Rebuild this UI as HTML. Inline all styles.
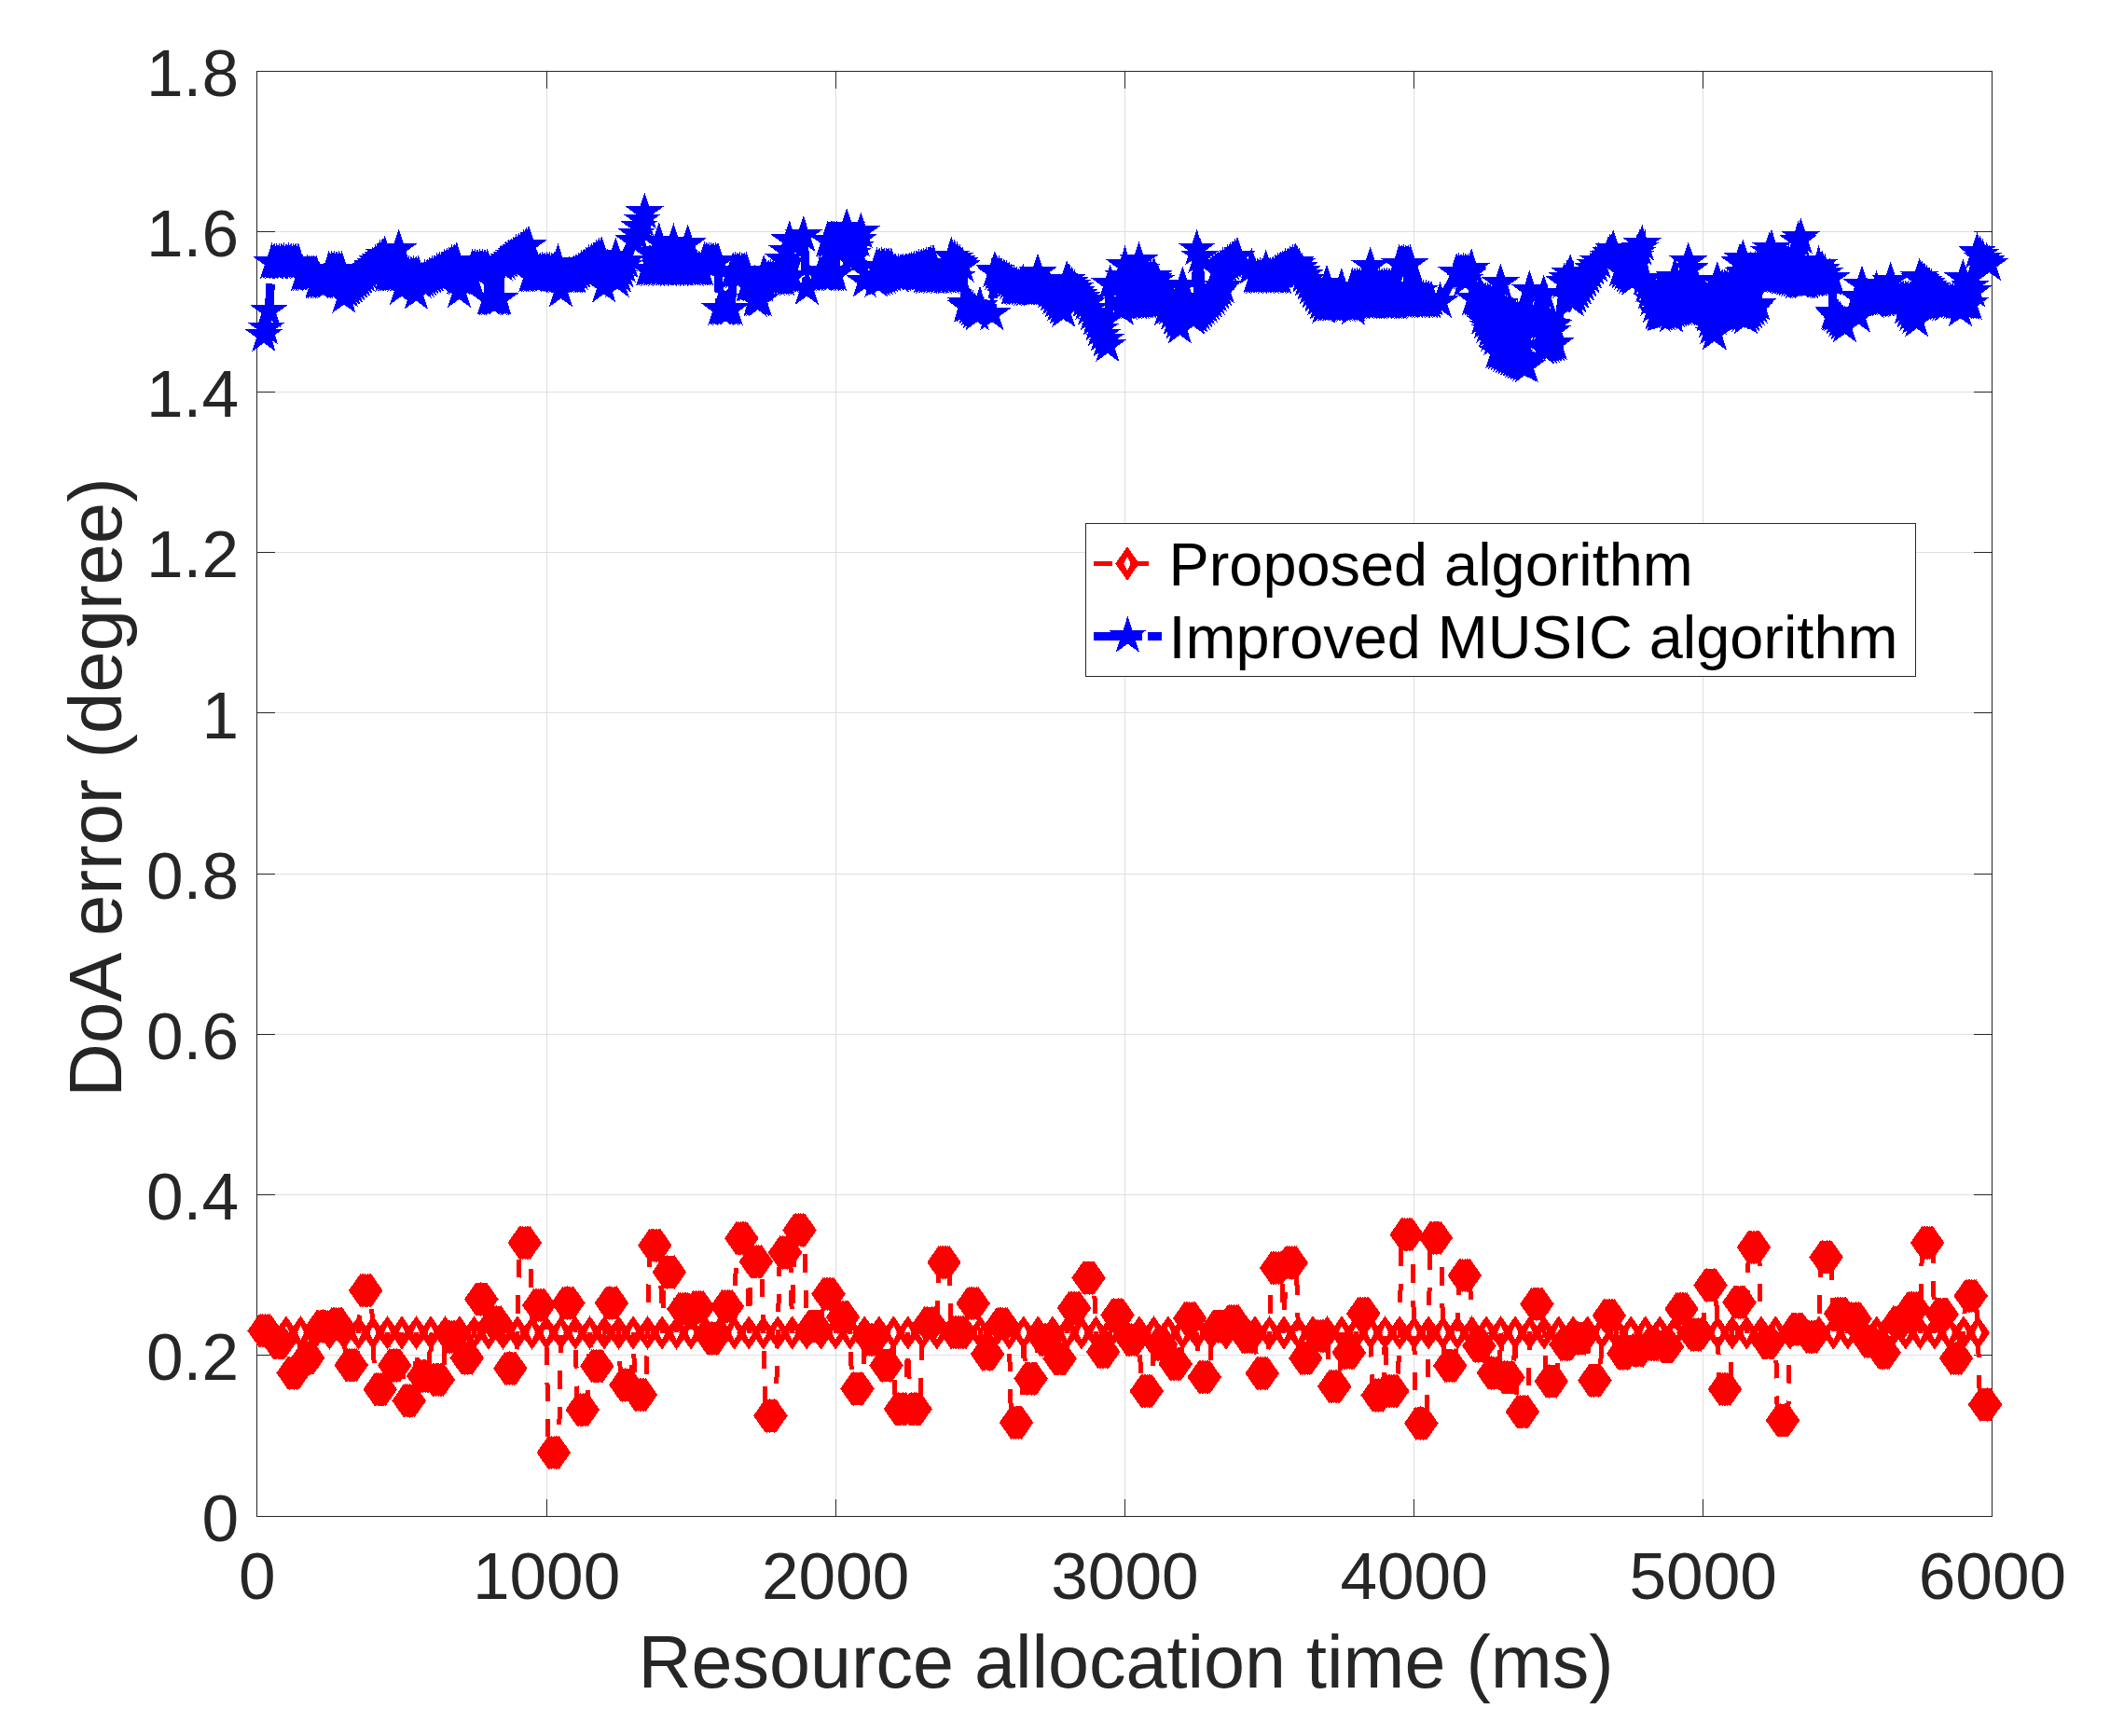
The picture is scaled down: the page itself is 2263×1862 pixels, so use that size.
<!DOCTYPE html>
<html><head><meta charset="utf-8"><title>DoA error</title>
<style>
html,body{margin:0;padding:0;background:#fff}
svg{display:block}
text{font-family:"Liberation Sans",sans-serif;fill:#262626}
.lg{fill:#000}
</style></head><body>
<svg width="2263" height="1862" viewBox="0 0 2263 1862">
<rect x="0" y="0" width="2263" height="1862" fill="#fff"/>
<g fill="#dfdfdf" shape-rendering="crispEdges">
<rect x="586" y="76" width="1" height="1551"/>
<rect x="896" y="76" width="1" height="1551"/>
<rect x="1206" y="76" width="1" height="1551"/>
<rect x="1516" y="76" width="1" height="1551"/>
<rect x="1826" y="76" width="1" height="1551"/>
<rect x="275" y="1453" width="1862" height="1"/>
<rect x="275" y="1281" width="1862" height="1"/>
<rect x="275" y="1109" width="1862" height="1"/>
<rect x="275" y="937" width="1862" height="1"/>
<rect x="275" y="764" width="1862" height="1"/>
<rect x="275" y="592" width="1862" height="1"/>
<rect x="275" y="420" width="1862" height="1"/>
<rect x="275" y="248" width="1862" height="1"/>
</g>
<g fill="#262626" shape-rendering="crispEdges">
<rect x="275" y="76" width="1862" height="1"/><rect x="275" y="1626" width="1862" height="1"/><rect x="275" y="76" width="1" height="1551"/><rect x="2136" y="76" width="1" height="1551"/>
<rect x="586" y="76" width="1" height="19"/><rect x="586" y="1608" width="1" height="19"/>
<rect x="896" y="76" width="1" height="19"/><rect x="896" y="1608" width="1" height="19"/>
<rect x="1206" y="76" width="1" height="19"/><rect x="1206" y="1608" width="1" height="19"/>
<rect x="1516" y="76" width="1" height="19"/><rect x="1516" y="1608" width="1" height="19"/>
<rect x="1826" y="76" width="1" height="19"/><rect x="1826" y="1608" width="1" height="19"/>
<rect x="275" y="1453" width="20" height="1"/><rect x="2117" y="1453" width="20" height="1"/>
<rect x="275" y="1281" width="20" height="1"/><rect x="2117" y="1281" width="20" height="1"/>
<rect x="275" y="1109" width="20" height="1"/><rect x="2117" y="1109" width="20" height="1"/>
<rect x="275" y="937" width="20" height="1"/><rect x="2117" y="937" width="20" height="1"/>
<rect x="275" y="764" width="20" height="1"/><rect x="2117" y="764" width="20" height="1"/>
<rect x="275" y="592" width="20" height="1"/><rect x="2117" y="592" width="20" height="1"/>
<rect x="275" y="420" width="20" height="1"/><rect x="2117" y="420" width="20" height="1"/>
<rect x="275" y="248" width="20" height="1"/><rect x="2117" y="248" width="20" height="1"/>
</g>
<defs><path id="star" d="M0.00 -21.60 L4.85 -6.67 L20.54 -6.67 L7.85 2.55 L12.70 17.47 L0.00 8.25 L-12.70 17.47 L-7.85 2.55 L-20.54 -6.67 L-4.85 -6.67Z" fill="#00f"/><path id="dia" d="M0 -18.2 L12.7 0 L0 18.2 L-12.7 0 Z M0 -7.5 L-3.9 0 L0 7.5 L3.9 0 Z" fill="#f00" fill-rule="evenodd"/></defs>
<g><polyline fill="none" stroke="#f00" stroke-width="5" stroke-dasharray="19.5 19" shape-rendering="crispEdges" points="278.1,1427.4 279.7,1427.4 281.3,1427.4 282.9,1427.4 284.5,1427.4 286.1,1427.4 287.7,1427.4 289.3,1427.4 291.4,1429.5 293.6,1440.3 295.2,1440.3 296.8,1440.3 298.4,1440.3 300.0,1440.3 301.6,1440.3 303.2,1440.3 304.8,1440.3 306.9,1429.5 309.1,1472.6 310.7,1472.6 312.3,1472.6 313.9,1472.6 315.5,1472.6 317.1,1472.6 318.7,1472.6 320.3,1472.6 322.4,1429.5 324.6,1456.5 326.2,1456.5 327.8,1456.5 329.4,1456.5 331.0,1456.5 332.6,1456.5 334.2,1456.5 335.8,1456.5 337.9,1429.5 340.1,1422.6 341.7,1422.6 343.3,1422.6 344.9,1422.6 346.5,1422.6 348.1,1422.6 349.7,1422.6 351.3,1422.6 353.4,1429.5 355.6,1420.2 357.2,1420.2 358.8,1420.2 360.4,1420.2 362.0,1420.2 363.6,1420.2 365.2,1420.2 366.8,1420.2 368.9,1429.5 371.1,1464.2 372.7,1464.2 374.3,1464.2 375.9,1464.2 377.5,1464.2 379.1,1464.2 380.7,1464.2 382.3,1464.2 384.5,1429.5 386.6,1384.2 388.2,1384.2 389.8,1384.2 391.4,1384.2 393.0,1384.2 394.6,1384.2 396.2,1384.2 397.8,1384.2 400.0,1429.5 402.1,1490.3 403.7,1490.3 405.3,1490.3 406.9,1490.3 408.5,1490.3 410.1,1490.3 411.7,1490.3 413.3,1490.3 415.5,1429.5 417.6,1464.5 419.2,1464.5 420.8,1464.5 422.4,1464.5 424.0,1464.5 425.6,1464.5 427.2,1464.5 428.8,1464.5 431.0,1429.5 433.1,1502.4 434.7,1502.4 436.3,1502.4 437.9,1502.4 439.5,1502.4 441.1,1502.4 442.7,1502.4 444.3,1502.4 446.5,1429.5 448.6,1475.8 450.2,1475.8 451.8,1475.8 453.4,1475.8 455.0,1475.8 456.6,1475.8 458.2,1475.8 459.8,1475.8 462.0,1429.5 464.2,1479.8 465.8,1479.8 467.4,1479.8 469.0,1479.8 470.6,1479.8 472.2,1479.8 473.8,1479.8 475.4,1479.8 477.5,1429.5 479.7,1433.9 481.3,1433.9 482.9,1433.9 484.5,1433.9 486.1,1433.9 487.7,1433.9 489.3,1433.9 490.9,1433.9 493.0,1429.5 495.2,1456.5 496.8,1456.5 498.4,1456.5 500.0,1456.5 501.6,1456.5 503.2,1456.5 504.8,1456.5 506.4,1456.5 508.5,1429.5 510.7,1393.5 512.3,1393.5 513.9,1393.5 515.5,1393.5 517.1,1393.5 518.7,1393.5 520.3,1393.5 521.9,1393.5 524.0,1429.5 526.2,1418.5 527.8,1418.5 529.4,1418.5 531.0,1418.5 532.6,1418.5 534.2,1418.5 535.8,1418.5 537.4,1418.5 539.5,1429.5 541.7,1467.7 543.3,1467.7 544.9,1467.7 546.5,1467.7 548.1,1467.7 549.7,1467.7 551.3,1467.7 552.9,1467.7 555.0,1429.5 557.2,1333.0 558.8,1333.0 560.4,1333.0 562.0,1333.0 563.6,1333.0 565.2,1333.0 566.8,1333.0 568.4,1333.0 570.6,1429.5 572.7,1400.0 574.3,1400.0 575.9,1400.0 577.5,1400.0 579.1,1400.0 580.7,1400.0 582.3,1400.0 583.9,1400.0 586.1,1429.5 588.2,1558.0 589.8,1558.0 591.4,1558.0 593.0,1558.0 594.6,1558.0 596.2,1558.0 597.8,1558.0 599.4,1558.0 601.6,1429.5 603.7,1397.6 605.3,1397.6 606.9,1397.6 608.5,1397.6 610.1,1397.6 611.7,1397.6 613.3,1397.6 614.9,1397.6 617.1,1429.5 619.2,1512.1 620.8,1512.1 622.4,1512.1 624.0,1512.1 625.6,1512.1 627.2,1512.1 628.8,1512.1 630.4,1512.1 632.6,1429.5 634.7,1465.3 636.3,1465.3 637.9,1465.3 639.5,1465.3 641.1,1465.3 642.7,1465.3 644.3,1465.3 645.9,1465.3 648.1,1429.5 650.3,1397.6 651.9,1397.6 653.5,1397.6 655.1,1397.6 656.7,1397.6 658.3,1397.6 659.9,1397.6 661.5,1397.6 663.6,1429.5 665.8,1485.5 667.4,1485.5 669.0,1485.5 670.6,1485.5 672.2,1485.5 673.8,1485.5 675.4,1485.5 677.0,1485.5 679.1,1429.5 681.3,1496.0 682.9,1496.0 684.5,1496.0 686.1,1496.0 687.7,1496.0 689.3,1496.0 690.9,1496.0 692.5,1496.0 694.6,1429.5 696.8,1335.8 698.4,1335.8 700.0,1335.8 701.6,1335.8 703.2,1335.8 704.8,1335.8 706.4,1335.8 708.0,1335.8 710.1,1429.5 712.3,1364.5 713.9,1364.5 715.5,1364.5 717.1,1364.5 718.7,1364.5 720.3,1364.5 721.9,1364.5 723.5,1364.5 725.6,1429.5 727.8,1404.0 729.4,1404.0 731.0,1404.0 732.6,1404.0 734.2,1404.0 735.8,1404.0 737.4,1404.0 739.0,1404.0 741.1,1429.5 743.3,1402.4 744.9,1402.4 746.5,1402.4 748.1,1402.4 749.7,1402.4 751.3,1402.4 752.9,1402.4 754.5,1402.4 756.7,1429.5 758.8,1435.5 760.4,1435.5 762.0,1435.5 763.6,1435.5 765.2,1435.5 766.8,1435.5 768.4,1435.5 770.0,1435.5 772.2,1429.5 774.3,1401.3 775.9,1401.3 777.5,1401.3 779.1,1401.3 780.7,1401.3 782.3,1401.3 783.9,1401.3 785.5,1401.3 787.7,1429.5 789.8,1328.2 791.4,1328.2 793.0,1328.2 794.6,1328.2 796.2,1328.2 797.8,1328.2 799.4,1328.2 801.0,1328.2 803.2,1429.5 805.3,1353.2 806.9,1353.2 808.5,1353.2 810.1,1353.2 811.7,1353.2 813.3,1353.2 814.9,1353.2 816.5,1353.2 818.7,1429.5 820.8,1518.5 822.4,1518.5 824.0,1518.5 825.6,1518.5 827.2,1518.5 828.8,1518.5 830.4,1518.5 832.0,1518.5 834.2,1429.5 836.4,1343.5 838.0,1343.5 839.6,1343.5 841.2,1343.5 842.8,1343.5 844.4,1343.5 846.0,1343.5 847.6,1343.5 849.7,1429.5 851.9,1319.4 853.5,1319.4 855.1,1319.4 856.7,1319.4 858.3,1319.4 859.9,1319.4 861.5,1319.4 863.1,1319.4 865.2,1429.5 867.4,1422.6 869.0,1422.6 870.6,1422.6 872.2,1422.6 873.8,1422.6 875.4,1422.6 877.0,1422.6 878.6,1422.6 880.7,1429.5 882.9,1387.9 884.5,1387.9 886.1,1387.9 887.7,1387.9 889.3,1387.9 890.9,1387.9 892.5,1387.9 894.1,1387.9 896.2,1429.5 898.4,1412.9 900.0,1412.9 901.6,1412.9 903.2,1412.9 904.8,1412.9 906.4,1412.9 908.0,1412.9 909.6,1412.9 911.7,1429.5 913.9,1489.5 915.5,1489.5 917.1,1489.5 918.7,1489.5 920.3,1489.5 921.9,1489.5 923.5,1489.5 925.1,1489.5 927.2,1429.5 929.4,1437.0 931.0,1437.0 932.6,1437.0 934.2,1437.0 935.8,1437.0 937.4,1437.0 939.0,1437.0 940.6,1437.0 942.8,1429.5 944.9,1464.5 946.5,1464.5 948.1,1464.5 949.7,1464.5 951.3,1464.5 952.9,1464.5 954.5,1464.5 956.1,1464.5 958.3,1429.5 960.4,1511.3 962.0,1511.3 963.6,1511.3 965.2,1511.3 966.8,1511.3 968.4,1511.3 970.0,1511.3 971.6,1511.3 973.8,1429.5 975.9,1511.3 977.5,1511.3 979.1,1511.3 980.7,1511.3 982.3,1511.3 983.9,1511.3 985.5,1511.3 987.1,1511.3 989.3,1429.5 991.4,1419.4 993.0,1419.4 994.6,1419.4 996.2,1419.4 997.8,1419.4 999.4,1419.4 1001.0,1419.4 1002.6,1419.4 1004.8,1429.5 1006.9,1354.0 1008.5,1354.0 1010.1,1354.0 1011.7,1354.0 1013.3,1354.0 1014.9,1354.0 1016.5,1354.0 1018.1,1354.0 1020.3,1429.5 1022.5,1429.0 1024.1,1429.0 1025.7,1429.0 1027.3,1429.0 1028.9,1429.0 1030.5,1429.0 1032.1,1429.0 1033.7,1429.0 1035.8,1429.5 1038.0,1398.0 1039.6,1398.0 1041.2,1398.0 1042.8,1398.0 1044.4,1398.0 1046.0,1398.0 1047.6,1398.0 1049.2,1398.0 1051.3,1429.5 1053.5,1452.4 1055.1,1452.4 1056.7,1452.4 1058.3,1452.4 1059.9,1452.4 1061.5,1452.4 1063.1,1452.4 1064.7,1452.4 1066.8,1429.5 1069.0,1420.2 1070.6,1420.2 1072.2,1420.2 1073.8,1420.2 1075.4,1420.2 1077.0,1420.2 1078.6,1420.2 1080.2,1420.2 1082.3,1429.5 1084.5,1525.8 1086.1,1525.8 1087.7,1525.8 1089.3,1525.8 1090.9,1525.8 1092.5,1525.8 1094.1,1525.8 1095.7,1525.8 1097.8,1429.5 1100.0,1478.7 1101.6,1478.7 1103.2,1478.7 1104.8,1478.7 1106.4,1478.7 1108.0,1478.7 1109.6,1478.7 1111.2,1478.7 1113.3,1429.5 1115.5,1437.0 1117.1,1437.0 1118.7,1437.0 1120.3,1437.0 1121.9,1437.0 1123.5,1437.0 1125.1,1437.0 1126.7,1437.0 1128.9,1429.5 1131.0,1457.3 1132.6,1457.3 1134.2,1457.3 1135.8,1457.3 1137.4,1457.3 1139.0,1457.3 1140.6,1457.3 1142.2,1457.3 1144.4,1429.5 1146.5,1402.9 1148.1,1402.9 1149.7,1402.9 1151.3,1402.9 1152.9,1402.9 1154.5,1402.9 1156.1,1402.9 1157.7,1402.9 1159.9,1429.5 1162.0,1370.6 1163.6,1370.6 1165.2,1370.6 1166.8,1370.6 1168.4,1370.6 1170.0,1370.6 1171.6,1370.6 1173.2,1370.6 1175.4,1429.5 1177.5,1450.0 1179.1,1450.0 1180.7,1450.0 1182.3,1450.0 1183.9,1450.0 1185.5,1450.0 1187.1,1450.0 1188.7,1450.0 1190.9,1429.5 1193.0,1410.5 1194.6,1410.5 1196.2,1410.5 1197.8,1410.5 1199.4,1410.5 1201.0,1410.5 1202.6,1410.5 1204.2,1410.5 1206.4,1429.5 1208.6,1437.0 1210.2,1437.0 1211.8,1437.0 1213.4,1437.0 1215.0,1437.0 1216.6,1437.0 1218.2,1437.0 1219.8,1437.0 1221.9,1429.5 1224.1,1492.0 1225.7,1492.0 1227.3,1492.0 1228.9,1492.0 1230.5,1492.0 1232.1,1492.0 1233.7,1492.0 1235.3,1492.0 1237.4,1429.5 1239.6,1442.0 1241.2,1442.0 1242.8,1442.0 1244.4,1442.0 1246.0,1442.0 1247.6,1442.0 1249.2,1442.0 1250.8,1442.0 1252.9,1429.5 1255.1,1463.0 1256.7,1463.0 1258.3,1463.0 1259.9,1463.0 1261.5,1463.0 1263.1,1463.0 1264.7,1463.0 1266.3,1463.0 1268.4,1429.5 1270.6,1414.0 1272.2,1414.0 1273.8,1414.0 1275.4,1414.0 1277.0,1414.0 1278.6,1414.0 1280.2,1414.0 1281.8,1414.0 1283.9,1429.5 1286.1,1477.0 1287.7,1477.0 1289.3,1477.0 1290.9,1477.0 1292.5,1477.0 1294.1,1477.0 1295.7,1477.0 1297.3,1477.0 1299.4,1429.5 1301.6,1422.6 1303.2,1422.6 1304.8,1422.6 1306.4,1422.6 1308.0,1422.6 1309.6,1422.6 1311.2,1422.6 1312.8,1422.6 1315.0,1429.5 1317.1,1417.4 1318.7,1417.4 1320.3,1417.4 1321.9,1417.4 1323.5,1417.4 1325.1,1417.4 1326.7,1417.4 1328.3,1417.4 1330.5,1429.5 1332.6,1433.9 1334.2,1433.9 1335.8,1433.9 1337.4,1433.9 1339.0,1433.9 1340.6,1433.9 1342.2,1433.9 1343.8,1433.9 1346.0,1429.5 1348.1,1473.0 1349.7,1473.0 1351.3,1473.0 1352.9,1473.0 1354.5,1473.0 1356.1,1473.0 1357.7,1473.0 1359.3,1473.0 1361.5,1429.5 1363.6,1360.0 1365.2,1360.0 1366.8,1360.0 1368.4,1360.0 1370.0,1360.0 1371.6,1360.0 1373.2,1360.0 1374.8,1360.0 1377.0,1429.5 1379.1,1354.4 1380.7,1354.4 1382.3,1354.4 1383.9,1354.4 1385.5,1354.4 1387.1,1354.4 1388.7,1354.4 1390.3,1354.4 1392.5,1429.5 1394.7,1456.8 1396.3,1456.8 1397.9,1456.8 1399.5,1456.8 1401.1,1456.8 1402.7,1456.8 1404.3,1456.8 1405.9,1456.8 1408.0,1429.5 1410.2,1433.0 1411.8,1433.0 1413.4,1433.0 1415.0,1433.0 1416.6,1433.0 1418.2,1433.0 1419.8,1433.0 1421.4,1433.0 1423.5,1429.5 1425.7,1487.1 1427.3,1487.1 1428.9,1487.1 1430.5,1487.1 1432.1,1487.1 1433.7,1487.1 1435.3,1487.1 1436.9,1487.1 1439.0,1429.5 1441.2,1450.8 1442.8,1450.8 1444.4,1450.8 1446.0,1450.8 1447.6,1450.8 1449.2,1450.8 1450.8,1450.8 1452.4,1450.8 1454.5,1429.5 1456.7,1408.9 1458.3,1408.9 1459.9,1408.9 1461.5,1408.9 1463.1,1408.9 1464.7,1408.9 1466.3,1408.9 1467.9,1408.9 1470.0,1429.5 1472.2,1496.5 1473.8,1496.5 1475.4,1496.5 1477.0,1496.5 1478.6,1496.5 1480.2,1496.5 1481.8,1496.5 1483.4,1496.5 1485.5,1429.5 1487.7,1492.0 1489.3,1492.0 1490.9,1492.0 1492.5,1492.0 1494.1,1492.0 1495.7,1492.0 1497.3,1492.0 1498.9,1492.0 1501.1,1429.5 1503.2,1324.2 1504.8,1324.2 1506.4,1324.2 1508.0,1324.2 1509.6,1324.2 1511.2,1324.2 1512.8,1324.2 1514.4,1324.2 1516.6,1429.5 1518.7,1526.6 1520.3,1526.6 1521.9,1526.6 1523.5,1526.6 1525.1,1526.6 1526.7,1526.6 1528.3,1526.6 1529.9,1526.6 1532.1,1429.5 1534.2,1327.7 1535.8,1327.7 1537.4,1327.7 1539.0,1327.7 1540.6,1327.7 1542.2,1327.7 1543.8,1327.7 1545.4,1327.7 1547.6,1429.5 1549.7,1464.8 1551.3,1464.8 1552.9,1464.8 1554.5,1464.8 1556.1,1464.8 1557.7,1464.8 1559.3,1464.8 1560.9,1464.8 1563.1,1429.5 1565.2,1368.0 1566.8,1368.0 1568.4,1368.0 1570.0,1368.0 1571.6,1368.0 1573.2,1368.0 1574.8,1368.0 1576.4,1368.0 1578.6,1429.5 1580.8,1443.5 1582.4,1443.5 1584.0,1443.5 1585.6,1443.5 1587.2,1443.5 1588.8,1443.5 1590.4,1443.5 1592.0,1443.5 1594.1,1429.5 1596.3,1472.6 1597.9,1472.6 1599.5,1472.6 1601.1,1472.6 1602.7,1472.6 1604.3,1472.6 1605.9,1472.6 1607.5,1472.6 1609.6,1429.5 1611.8,1477.4 1613.4,1477.4 1615.0,1477.4 1616.6,1477.4 1618.2,1477.4 1619.8,1477.4 1621.4,1477.4 1623.0,1477.4 1625.1,1429.5 1627.3,1514.2 1628.9,1514.2 1630.5,1514.2 1632.1,1514.2 1633.7,1514.2 1635.3,1514.2 1636.9,1514.2 1638.5,1514.2 1640.6,1429.5 1642.8,1398.7 1644.4,1398.7 1646.0,1398.7 1647.6,1398.7 1649.2,1398.7 1650.8,1398.7 1652.4,1398.7 1654.0,1398.7 1656.1,1429.5 1658.3,1481.5 1659.9,1481.5 1661.5,1481.5 1663.1,1481.5 1664.7,1481.5 1666.3,1481.5 1667.9,1481.5 1669.5,1481.5 1671.7,1429.5 1673.8,1442.0 1675.4,1442.0 1677.0,1442.0 1678.6,1442.0 1680.2,1442.0 1681.8,1442.0 1683.4,1442.0 1685.0,1442.0 1687.2,1429.5 1689.3,1435.5 1690.9,1435.5 1692.5,1435.5 1694.1,1435.5 1695.7,1435.5 1697.3,1435.5 1698.9,1435.5 1700.5,1435.5 1702.7,1429.5 1704.8,1480.6 1706.4,1480.6 1708.0,1480.6 1709.6,1480.6 1711.2,1480.6 1712.8,1480.6 1714.4,1480.6 1716.0,1480.6 1718.2,1429.5 1720.3,1411.0 1721.9,1411.0 1723.5,1411.0 1725.1,1411.0 1726.7,1411.0 1728.3,1411.0 1729.9,1411.0 1731.5,1411.0 1733.7,1429.5 1735.8,1451.6 1737.4,1451.6 1739.0,1451.6 1740.6,1451.6 1742.2,1451.6 1743.8,1451.6 1745.4,1451.6 1747.0,1451.6 1749.2,1429.5 1751.3,1448.4 1752.9,1448.4 1754.5,1448.4 1756.1,1448.4 1757.7,1448.4 1759.3,1448.4 1760.9,1448.4 1762.5,1448.4 1764.7,1429.5 1766.9,1442.0 1768.5,1442.0 1770.1,1442.0 1771.7,1442.0 1773.3,1442.0 1774.9,1442.0 1776.5,1442.0 1778.1,1442.0 1780.2,1429.5 1782.4,1444.4 1784.0,1444.4 1785.6,1444.4 1787.2,1444.4 1788.8,1444.4 1790.4,1444.4 1792.0,1444.4 1793.6,1444.4 1795.7,1429.5 1797.9,1404.0 1799.5,1404.0 1801.1,1404.0 1802.7,1404.0 1804.3,1404.0 1805.9,1404.0 1807.5,1404.0 1809.1,1404.0 1811.2,1429.5 1813.4,1431.5 1815.0,1431.5 1816.6,1431.5 1818.2,1431.5 1819.8,1431.5 1821.4,1431.5 1823.0,1431.5 1824.6,1431.5 1826.7,1429.5 1828.9,1378.5 1830.5,1378.5 1832.1,1378.5 1833.7,1378.5 1835.3,1378.5 1836.9,1378.5 1838.5,1378.5 1840.1,1378.5 1842.2,1429.5 1844.4,1490.0 1846.0,1490.0 1847.6,1490.0 1849.2,1490.0 1850.8,1490.0 1852.4,1490.0 1854.0,1490.0 1855.6,1490.0 1857.8,1429.5 1859.9,1396.8 1861.5,1396.8 1863.1,1396.8 1864.7,1396.8 1866.3,1396.8 1867.9,1396.8 1869.5,1396.8 1871.1,1396.8 1873.3,1429.5 1875.4,1337.9 1877.0,1337.9 1878.6,1337.9 1880.2,1337.9 1881.8,1337.9 1883.4,1337.9 1885.0,1337.9 1886.6,1337.9 1888.8,1429.5 1890.9,1440.3 1892.5,1440.3 1894.1,1440.3 1895.7,1440.3 1897.3,1440.3 1898.9,1440.3 1900.5,1440.3 1902.1,1440.3 1904.3,1429.5 1906.4,1523.4 1908.0,1523.4 1909.6,1523.4 1911.2,1523.4 1912.8,1523.4 1914.4,1523.4 1916.0,1523.4 1917.6,1523.4 1919.8,1429.5 1921.9,1425.8 1923.5,1425.8 1925.1,1425.8 1926.7,1425.8 1928.3,1425.8 1929.9,1425.8 1931.5,1425.8 1933.1,1425.8 1935.3,1429.5 1937.4,1433.9 1939.0,1433.9 1940.6,1433.9 1942.2,1433.9 1943.8,1433.9 1945.4,1433.9 1947.0,1433.9 1948.6,1433.9 1950.8,1429.5 1953.0,1348.4 1954.6,1348.4 1956.2,1348.4 1957.8,1348.4 1959.4,1348.4 1961.0,1348.4 1962.6,1348.4 1964.2,1348.4 1966.3,1429.5 1968.5,1408.9 1970.1,1408.9 1971.7,1408.9 1973.3,1408.9 1974.9,1408.9 1976.5,1408.9 1978.1,1408.9 1979.7,1408.9 1981.8,1429.5 1984.0,1414.5 1985.6,1414.5 1987.2,1414.5 1988.8,1414.5 1990.4,1414.5 1992.0,1414.5 1993.6,1414.5 1995.2,1414.5 1997.3,1429.5 1999.5,1438.7 2001.1,1438.7 2002.7,1438.7 2004.3,1438.7 2005.9,1438.7 2007.5,1438.7 2009.1,1438.7 2010.7,1438.7 2012.8,1429.5 2015.0,1450.8 2016.6,1450.8 2018.2,1450.8 2019.8,1450.8 2021.4,1450.8 2023.0,1450.8 2024.6,1450.8 2026.2,1450.8 2028.3,1429.5 2030.5,1418.5 2032.1,1418.5 2033.7,1418.5 2035.3,1418.5 2036.9,1418.5 2038.5,1418.5 2040.1,1418.5 2041.7,1418.5 2043.8,1429.5 2046.0,1403.2 2047.6,1403.2 2049.2,1403.2 2050.8,1403.2 2052.4,1403.2 2054.0,1403.2 2055.6,1403.2 2057.2,1403.2 2059.4,1429.5 2061.5,1333.0 2063.1,1333.0 2064.7,1333.0 2066.3,1333.0 2067.9,1333.0 2069.5,1333.0 2071.1,1333.0 2072.7,1333.0 2074.9,1429.5 2077.0,1409.7 2078.6,1409.7 2080.2,1409.7 2081.8,1409.7 2083.4,1409.7 2085.0,1409.7 2086.6,1409.7 2088.2,1409.7 2090.4,1429.5 2092.5,1456.8 2094.1,1456.8 2095.7,1456.8 2097.3,1456.8 2098.9,1456.8 2100.5,1456.8 2102.1,1456.8 2103.7,1456.8 2105.9,1429.5 2108.0,1390.0 2109.6,1390.0 2111.2,1390.0 2112.8,1390.0 2114.4,1390.0 2116.0,1390.0 2117.6,1390.0 2119.2,1390.0 2121.4,1429.5 2123.5,1506.5 2125.1,1506.5 2126.7,1506.5 2128.3,1506.5 2129.9,1506.5 2131.5,1506.5 2133.1,1506.5 2134.7,1506.5"/><g shape-rendering="crispEdges"><use href="#dia" x="278.1" y="1427.4"/><use href="#dia" x="279.7" y="1427.4"/><use href="#dia" x="281.3" y="1427.4"/><use href="#dia" x="282.9" y="1427.4"/><use href="#dia" x="284.5" y="1427.4"/><use href="#dia" x="286.1" y="1427.4"/><use href="#dia" x="287.7" y="1427.4"/><use href="#dia" x="289.3" y="1427.4"/><use href="#dia" x="291.4" y="1429.5"/><use href="#dia" x="293.6" y="1440.3"/><use href="#dia" x="295.2" y="1440.3"/><use href="#dia" x="296.8" y="1440.3"/><use href="#dia" x="298.4" y="1440.3"/><use href="#dia" x="300.0" y="1440.3"/><use href="#dia" x="301.6" y="1440.3"/><use href="#dia" x="303.2" y="1440.3"/><use href="#dia" x="304.8" y="1440.3"/><use href="#dia" x="306.9" y="1429.5"/><use href="#dia" x="309.1" y="1472.6"/><use href="#dia" x="310.7" y="1472.6"/><use href="#dia" x="312.3" y="1472.6"/><use href="#dia" x="313.9" y="1472.6"/><use href="#dia" x="315.5" y="1472.6"/><use href="#dia" x="317.1" y="1472.6"/><use href="#dia" x="318.7" y="1472.6"/><use href="#dia" x="320.3" y="1472.6"/><use href="#dia" x="322.4" y="1429.5"/><use href="#dia" x="324.6" y="1456.5"/><use href="#dia" x="326.2" y="1456.5"/><use href="#dia" x="327.8" y="1456.5"/><use href="#dia" x="329.4" y="1456.5"/><use href="#dia" x="331.0" y="1456.5"/><use href="#dia" x="332.6" y="1456.5"/><use href="#dia" x="334.2" y="1456.5"/><use href="#dia" x="335.8" y="1456.5"/><use href="#dia" x="337.9" y="1429.5"/><use href="#dia" x="340.1" y="1422.6"/><use href="#dia" x="341.7" y="1422.6"/><use href="#dia" x="343.3" y="1422.6"/><use href="#dia" x="344.9" y="1422.6"/><use href="#dia" x="346.5" y="1422.6"/><use href="#dia" x="348.1" y="1422.6"/><use href="#dia" x="349.7" y="1422.6"/><use href="#dia" x="351.3" y="1422.6"/><use href="#dia" x="353.4" y="1429.5"/><use href="#dia" x="355.6" y="1420.2"/><use href="#dia" x="357.2" y="1420.2"/><use href="#dia" x="358.8" y="1420.2"/><use href="#dia" x="360.4" y="1420.2"/><use href="#dia" x="362.0" y="1420.2"/><use href="#dia" x="363.6" y="1420.2"/><use href="#dia" x="365.2" y="1420.2"/><use href="#dia" x="366.8" y="1420.2"/><use href="#dia" x="368.9" y="1429.5"/><use href="#dia" x="371.1" y="1464.2"/><use href="#dia" x="372.7" y="1464.2"/><use href="#dia" x="374.3" y="1464.2"/><use href="#dia" x="375.9" y="1464.2"/><use href="#dia" x="377.5" y="1464.2"/><use href="#dia" x="379.1" y="1464.2"/><use href="#dia" x="380.7" y="1464.2"/><use href="#dia" x="382.3" y="1464.2"/><use href="#dia" x="384.5" y="1429.5"/><use href="#dia" x="386.6" y="1384.2"/><use href="#dia" x="388.2" y="1384.2"/><use href="#dia" x="389.8" y="1384.2"/><use href="#dia" x="391.4" y="1384.2"/><use href="#dia" x="393.0" y="1384.2"/><use href="#dia" x="394.6" y="1384.2"/><use href="#dia" x="396.2" y="1384.2"/><use href="#dia" x="397.8" y="1384.2"/><use href="#dia" x="400.0" y="1429.5"/><use href="#dia" x="402.1" y="1490.3"/><use href="#dia" x="403.7" y="1490.3"/><use href="#dia" x="405.3" y="1490.3"/><use href="#dia" x="406.9" y="1490.3"/><use href="#dia" x="408.5" y="1490.3"/><use href="#dia" x="410.1" y="1490.3"/><use href="#dia" x="411.7" y="1490.3"/><use href="#dia" x="413.3" y="1490.3"/><use href="#dia" x="415.5" y="1429.5"/><use href="#dia" x="417.6" y="1464.5"/><use href="#dia" x="419.2" y="1464.5"/><use href="#dia" x="420.8" y="1464.5"/><use href="#dia" x="422.4" y="1464.5"/><use href="#dia" x="424.0" y="1464.5"/><use href="#dia" x="425.6" y="1464.5"/><use href="#dia" x="427.2" y="1464.5"/><use href="#dia" x="428.8" y="1464.5"/><use href="#dia" x="431.0" y="1429.5"/><use href="#dia" x="433.1" y="1502.4"/><use href="#dia" x="434.7" y="1502.4"/><use href="#dia" x="436.3" y="1502.4"/><use href="#dia" x="437.9" y="1502.4"/><use href="#dia" x="439.5" y="1502.4"/><use href="#dia" x="441.1" y="1502.4"/><use href="#dia" x="442.7" y="1502.4"/><use href="#dia" x="444.3" y="1502.4"/><use href="#dia" x="446.5" y="1429.5"/><use href="#dia" x="448.6" y="1475.8"/><use href="#dia" x="450.2" y="1475.8"/><use href="#dia" x="451.8" y="1475.8"/><use href="#dia" x="453.4" y="1475.8"/><use href="#dia" x="455.0" y="1475.8"/><use href="#dia" x="456.6" y="1475.8"/><use href="#dia" x="458.2" y="1475.8"/><use href="#dia" x="459.8" y="1475.8"/><use href="#dia" x="462.0" y="1429.5"/><use href="#dia" x="464.2" y="1479.8"/><use href="#dia" x="465.8" y="1479.8"/><use href="#dia" x="467.4" y="1479.8"/><use href="#dia" x="469.0" y="1479.8"/><use href="#dia" x="470.6" y="1479.8"/><use href="#dia" x="472.2" y="1479.8"/><use href="#dia" x="473.8" y="1479.8"/><use href="#dia" x="475.4" y="1479.8"/><use href="#dia" x="477.5" y="1429.5"/><use href="#dia" x="479.7" y="1433.9"/><use href="#dia" x="481.3" y="1433.9"/><use href="#dia" x="482.9" y="1433.9"/><use href="#dia" x="484.5" y="1433.9"/><use href="#dia" x="486.1" y="1433.9"/><use href="#dia" x="487.7" y="1433.9"/><use href="#dia" x="489.3" y="1433.9"/><use href="#dia" x="490.9" y="1433.9"/><use href="#dia" x="493.0" y="1429.5"/><use href="#dia" x="495.2" y="1456.5"/><use href="#dia" x="496.8" y="1456.5"/><use href="#dia" x="498.4" y="1456.5"/><use href="#dia" x="500.0" y="1456.5"/><use href="#dia" x="501.6" y="1456.5"/><use href="#dia" x="503.2" y="1456.5"/><use href="#dia" x="504.8" y="1456.5"/><use href="#dia" x="506.4" y="1456.5"/><use href="#dia" x="508.5" y="1429.5"/><use href="#dia" x="510.7" y="1393.5"/><use href="#dia" x="512.3" y="1393.5"/><use href="#dia" x="513.9" y="1393.5"/><use href="#dia" x="515.5" y="1393.5"/><use href="#dia" x="517.1" y="1393.5"/><use href="#dia" x="518.7" y="1393.5"/><use href="#dia" x="520.3" y="1393.5"/><use href="#dia" x="521.9" y="1393.5"/><use href="#dia" x="524.0" y="1429.5"/><use href="#dia" x="526.2" y="1418.5"/><use href="#dia" x="527.8" y="1418.5"/><use href="#dia" x="529.4" y="1418.5"/><use href="#dia" x="531.0" y="1418.5"/><use href="#dia" x="532.6" y="1418.5"/><use href="#dia" x="534.2" y="1418.5"/><use href="#dia" x="535.8" y="1418.5"/><use href="#dia" x="537.4" y="1418.5"/><use href="#dia" x="539.5" y="1429.5"/><use href="#dia" x="541.7" y="1467.7"/><use href="#dia" x="543.3" y="1467.7"/><use href="#dia" x="544.9" y="1467.7"/><use href="#dia" x="546.5" y="1467.7"/><use href="#dia" x="548.1" y="1467.7"/><use href="#dia" x="549.7" y="1467.7"/><use href="#dia" x="551.3" y="1467.7"/><use href="#dia" x="552.9" y="1467.7"/><use href="#dia" x="555.0" y="1429.5"/><use href="#dia" x="557.2" y="1333.0"/><use href="#dia" x="558.8" y="1333.0"/><use href="#dia" x="560.4" y="1333.0"/><use href="#dia" x="562.0" y="1333.0"/><use href="#dia" x="563.6" y="1333.0"/><use href="#dia" x="565.2" y="1333.0"/><use href="#dia" x="566.8" y="1333.0"/><use href="#dia" x="568.4" y="1333.0"/><use href="#dia" x="570.6" y="1429.5"/><use href="#dia" x="572.7" y="1400.0"/><use href="#dia" x="574.3" y="1400.0"/><use href="#dia" x="575.9" y="1400.0"/><use href="#dia" x="577.5" y="1400.0"/><use href="#dia" x="579.1" y="1400.0"/><use href="#dia" x="580.7" y="1400.0"/><use href="#dia" x="582.3" y="1400.0"/><use href="#dia" x="583.9" y="1400.0"/><use href="#dia" x="586.1" y="1429.5"/><use href="#dia" x="588.2" y="1558.0"/><use href="#dia" x="589.8" y="1558.0"/><use href="#dia" x="591.4" y="1558.0"/><use href="#dia" x="593.0" y="1558.0"/><use href="#dia" x="594.6" y="1558.0"/><use href="#dia" x="596.2" y="1558.0"/><use href="#dia" x="597.8" y="1558.0"/><use href="#dia" x="599.4" y="1558.0"/><use href="#dia" x="601.6" y="1429.5"/><use href="#dia" x="603.7" y="1397.6"/><use href="#dia" x="605.3" y="1397.6"/><use href="#dia" x="606.9" y="1397.6"/><use href="#dia" x="608.5" y="1397.6"/><use href="#dia" x="610.1" y="1397.6"/><use href="#dia" x="611.7" y="1397.6"/><use href="#dia" x="613.3" y="1397.6"/><use href="#dia" x="614.9" y="1397.6"/><use href="#dia" x="617.1" y="1429.5"/><use href="#dia" x="619.2" y="1512.1"/><use href="#dia" x="620.8" y="1512.1"/><use href="#dia" x="622.4" y="1512.1"/><use href="#dia" x="624.0" y="1512.1"/><use href="#dia" x="625.6" y="1512.1"/><use href="#dia" x="627.2" y="1512.1"/><use href="#dia" x="628.8" y="1512.1"/><use href="#dia" x="630.4" y="1512.1"/><use href="#dia" x="632.6" y="1429.5"/><use href="#dia" x="634.7" y="1465.3"/><use href="#dia" x="636.3" y="1465.3"/><use href="#dia" x="637.9" y="1465.3"/><use href="#dia" x="639.5" y="1465.3"/><use href="#dia" x="641.1" y="1465.3"/><use href="#dia" x="642.7" y="1465.3"/><use href="#dia" x="644.3" y="1465.3"/><use href="#dia" x="645.9" y="1465.3"/><use href="#dia" x="648.1" y="1429.5"/><use href="#dia" x="650.3" y="1397.6"/><use href="#dia" x="651.9" y="1397.6"/><use href="#dia" x="653.5" y="1397.6"/><use href="#dia" x="655.1" y="1397.6"/><use href="#dia" x="656.7" y="1397.6"/><use href="#dia" x="658.3" y="1397.6"/><use href="#dia" x="659.9" y="1397.6"/><use href="#dia" x="661.5" y="1397.6"/><use href="#dia" x="663.6" y="1429.5"/><use href="#dia" x="665.8" y="1485.5"/><use href="#dia" x="667.4" y="1485.5"/><use href="#dia" x="669.0" y="1485.5"/><use href="#dia" x="670.6" y="1485.5"/><use href="#dia" x="672.2" y="1485.5"/><use href="#dia" x="673.8" y="1485.5"/><use href="#dia" x="675.4" y="1485.5"/><use href="#dia" x="677.0" y="1485.5"/><use href="#dia" x="679.1" y="1429.5"/><use href="#dia" x="681.3" y="1496.0"/><use href="#dia" x="682.9" y="1496.0"/><use href="#dia" x="684.5" y="1496.0"/><use href="#dia" x="686.1" y="1496.0"/><use href="#dia" x="687.7" y="1496.0"/><use href="#dia" x="689.3" y="1496.0"/><use href="#dia" x="690.9" y="1496.0"/><use href="#dia" x="692.5" y="1496.0"/><use href="#dia" x="694.6" y="1429.5"/><use href="#dia" x="696.8" y="1335.8"/><use href="#dia" x="698.4" y="1335.8"/><use href="#dia" x="700.0" y="1335.8"/><use href="#dia" x="701.6" y="1335.8"/><use href="#dia" x="703.2" y="1335.8"/><use href="#dia" x="704.8" y="1335.8"/><use href="#dia" x="706.4" y="1335.8"/><use href="#dia" x="708.0" y="1335.8"/><use href="#dia" x="710.1" y="1429.5"/><use href="#dia" x="712.3" y="1364.5"/><use href="#dia" x="713.9" y="1364.5"/><use href="#dia" x="715.5" y="1364.5"/><use href="#dia" x="717.1" y="1364.5"/><use href="#dia" x="718.7" y="1364.5"/><use href="#dia" x="720.3" y="1364.5"/><use href="#dia" x="721.9" y="1364.5"/><use href="#dia" x="723.5" y="1364.5"/><use href="#dia" x="725.6" y="1429.5"/><use href="#dia" x="727.8" y="1404.0"/><use href="#dia" x="729.4" y="1404.0"/><use href="#dia" x="731.0" y="1404.0"/><use href="#dia" x="732.6" y="1404.0"/><use href="#dia" x="734.2" y="1404.0"/><use href="#dia" x="735.8" y="1404.0"/><use href="#dia" x="737.4" y="1404.0"/><use href="#dia" x="739.0" y="1404.0"/><use href="#dia" x="741.1" y="1429.5"/><use href="#dia" x="743.3" y="1402.4"/><use href="#dia" x="744.9" y="1402.4"/><use href="#dia" x="746.5" y="1402.4"/><use href="#dia" x="748.1" y="1402.4"/><use href="#dia" x="749.7" y="1402.4"/><use href="#dia" x="751.3" y="1402.4"/><use href="#dia" x="752.9" y="1402.4"/><use href="#dia" x="754.5" y="1402.4"/><use href="#dia" x="756.7" y="1429.5"/><use href="#dia" x="758.8" y="1435.5"/><use href="#dia" x="760.4" y="1435.5"/><use href="#dia" x="762.0" y="1435.5"/><use href="#dia" x="763.6" y="1435.5"/><use href="#dia" x="765.2" y="1435.5"/><use href="#dia" x="766.8" y="1435.5"/><use href="#dia" x="768.4" y="1435.5"/><use href="#dia" x="770.0" y="1435.5"/><use href="#dia" x="772.2" y="1429.5"/><use href="#dia" x="774.3" y="1401.3"/><use href="#dia" x="775.9" y="1401.3"/><use href="#dia" x="777.5" y="1401.3"/><use href="#dia" x="779.1" y="1401.3"/><use href="#dia" x="780.7" y="1401.3"/><use href="#dia" x="782.3" y="1401.3"/><use href="#dia" x="783.9" y="1401.3"/><use href="#dia" x="785.5" y="1401.3"/><use href="#dia" x="787.7" y="1429.5"/><use href="#dia" x="789.8" y="1328.2"/><use href="#dia" x="791.4" y="1328.2"/><use href="#dia" x="793.0" y="1328.2"/><use href="#dia" x="794.6" y="1328.2"/><use href="#dia" x="796.2" y="1328.2"/><use href="#dia" x="797.8" y="1328.2"/><use href="#dia" x="799.4" y="1328.2"/><use href="#dia" x="801.0" y="1328.2"/><use href="#dia" x="803.2" y="1429.5"/><use href="#dia" x="805.3" y="1353.2"/><use href="#dia" x="806.9" y="1353.2"/><use href="#dia" x="808.5" y="1353.2"/><use href="#dia" x="810.1" y="1353.2"/><use href="#dia" x="811.7" y="1353.2"/><use href="#dia" x="813.3" y="1353.2"/><use href="#dia" x="814.9" y="1353.2"/><use href="#dia" x="816.5" y="1353.2"/><use href="#dia" x="818.7" y="1429.5"/><use href="#dia" x="820.8" y="1518.5"/><use href="#dia" x="822.4" y="1518.5"/><use href="#dia" x="824.0" y="1518.5"/><use href="#dia" x="825.6" y="1518.5"/><use href="#dia" x="827.2" y="1518.5"/><use href="#dia" x="828.8" y="1518.5"/><use href="#dia" x="830.4" y="1518.5"/><use href="#dia" x="832.0" y="1518.5"/><use href="#dia" x="834.2" y="1429.5"/><use href="#dia" x="836.4" y="1343.5"/><use href="#dia" x="838.0" y="1343.5"/><use href="#dia" x="839.6" y="1343.5"/><use href="#dia" x="841.2" y="1343.5"/><use href="#dia" x="842.8" y="1343.5"/><use href="#dia" x="844.4" y="1343.5"/><use href="#dia" x="846.0" y="1343.5"/><use href="#dia" x="847.6" y="1343.5"/><use href="#dia" x="849.7" y="1429.5"/><use href="#dia" x="851.9" y="1319.4"/><use href="#dia" x="853.5" y="1319.4"/><use href="#dia" x="855.1" y="1319.4"/><use href="#dia" x="856.7" y="1319.4"/><use href="#dia" x="858.3" y="1319.4"/><use href="#dia" x="859.9" y="1319.4"/><use href="#dia" x="861.5" y="1319.4"/><use href="#dia" x="863.1" y="1319.4"/><use href="#dia" x="865.2" y="1429.5"/><use href="#dia" x="867.4" y="1422.6"/><use href="#dia" x="869.0" y="1422.6"/><use href="#dia" x="870.6" y="1422.6"/><use href="#dia" x="872.2" y="1422.6"/><use href="#dia" x="873.8" y="1422.6"/><use href="#dia" x="875.4" y="1422.6"/><use href="#dia" x="877.0" y="1422.6"/><use href="#dia" x="878.6" y="1422.6"/><use href="#dia" x="880.7" y="1429.5"/><use href="#dia" x="882.9" y="1387.9"/><use href="#dia" x="884.5" y="1387.9"/><use href="#dia" x="886.1" y="1387.9"/><use href="#dia" x="887.7" y="1387.9"/><use href="#dia" x="889.3" y="1387.9"/><use href="#dia" x="890.9" y="1387.9"/><use href="#dia" x="892.5" y="1387.9"/><use href="#dia" x="894.1" y="1387.9"/><use href="#dia" x="896.2" y="1429.5"/><use href="#dia" x="898.4" y="1412.9"/><use href="#dia" x="900.0" y="1412.9"/><use href="#dia" x="901.6" y="1412.9"/><use href="#dia" x="903.2" y="1412.9"/><use href="#dia" x="904.8" y="1412.9"/><use href="#dia" x="906.4" y="1412.9"/><use href="#dia" x="908.0" y="1412.9"/><use href="#dia" x="909.6" y="1412.9"/><use href="#dia" x="911.7" y="1429.5"/><use href="#dia" x="913.9" y="1489.5"/><use href="#dia" x="915.5" y="1489.5"/><use href="#dia" x="917.1" y="1489.5"/><use href="#dia" x="918.7" y="1489.5"/><use href="#dia" x="920.3" y="1489.5"/><use href="#dia" x="921.9" y="1489.5"/><use href="#dia" x="923.5" y="1489.5"/><use href="#dia" x="925.1" y="1489.5"/><use href="#dia" x="927.2" y="1429.5"/><use href="#dia" x="929.4" y="1437.0"/><use href="#dia" x="931.0" y="1437.0"/><use href="#dia" x="932.6" y="1437.0"/><use href="#dia" x="934.2" y="1437.0"/><use href="#dia" x="935.8" y="1437.0"/><use href="#dia" x="937.4" y="1437.0"/><use href="#dia" x="939.0" y="1437.0"/><use href="#dia" x="940.6" y="1437.0"/><use href="#dia" x="942.8" y="1429.5"/><use href="#dia" x="944.9" y="1464.5"/><use href="#dia" x="946.5" y="1464.5"/><use href="#dia" x="948.1" y="1464.5"/><use href="#dia" x="949.7" y="1464.5"/><use href="#dia" x="951.3" y="1464.5"/><use href="#dia" x="952.9" y="1464.5"/><use href="#dia" x="954.5" y="1464.5"/><use href="#dia" x="956.1" y="1464.5"/><use href="#dia" x="958.3" y="1429.5"/><use href="#dia" x="960.4" y="1511.3"/><use href="#dia" x="962.0" y="1511.3"/><use href="#dia" x="963.6" y="1511.3"/><use href="#dia" x="965.2" y="1511.3"/><use href="#dia" x="966.8" y="1511.3"/><use href="#dia" x="968.4" y="1511.3"/><use href="#dia" x="970.0" y="1511.3"/><use href="#dia" x="971.6" y="1511.3"/><use href="#dia" x="973.8" y="1429.5"/><use href="#dia" x="975.9" y="1511.3"/><use href="#dia" x="977.5" y="1511.3"/><use href="#dia" x="979.1" y="1511.3"/><use href="#dia" x="980.7" y="1511.3"/><use href="#dia" x="982.3" y="1511.3"/><use href="#dia" x="983.9" y="1511.3"/><use href="#dia" x="985.5" y="1511.3"/><use href="#dia" x="987.1" y="1511.3"/><use href="#dia" x="989.3" y="1429.5"/><use href="#dia" x="991.4" y="1419.4"/><use href="#dia" x="993.0" y="1419.4"/><use href="#dia" x="994.6" y="1419.4"/><use href="#dia" x="996.2" y="1419.4"/><use href="#dia" x="997.8" y="1419.4"/><use href="#dia" x="999.4" y="1419.4"/><use href="#dia" x="1001.0" y="1419.4"/><use href="#dia" x="1002.6" y="1419.4"/><use href="#dia" x="1004.8" y="1429.5"/><use href="#dia" x="1006.9" y="1354.0"/><use href="#dia" x="1008.5" y="1354.0"/><use href="#dia" x="1010.1" y="1354.0"/><use href="#dia" x="1011.7" y="1354.0"/><use href="#dia" x="1013.3" y="1354.0"/><use href="#dia" x="1014.9" y="1354.0"/><use href="#dia" x="1016.5" y="1354.0"/><use href="#dia" x="1018.1" y="1354.0"/><use href="#dia" x="1020.3" y="1429.5"/><use href="#dia" x="1022.5" y="1429.0"/><use href="#dia" x="1024.1" y="1429.0"/><use href="#dia" x="1025.7" y="1429.0"/><use href="#dia" x="1027.3" y="1429.0"/><use href="#dia" x="1028.9" y="1429.0"/><use href="#dia" x="1030.5" y="1429.0"/><use href="#dia" x="1032.1" y="1429.0"/><use href="#dia" x="1033.7" y="1429.0"/><use href="#dia" x="1035.8" y="1429.5"/><use href="#dia" x="1038.0" y="1398.0"/><use href="#dia" x="1039.6" y="1398.0"/><use href="#dia" x="1041.2" y="1398.0"/><use href="#dia" x="1042.8" y="1398.0"/><use href="#dia" x="1044.4" y="1398.0"/><use href="#dia" x="1046.0" y="1398.0"/><use href="#dia" x="1047.6" y="1398.0"/><use href="#dia" x="1049.2" y="1398.0"/><use href="#dia" x="1051.3" y="1429.5"/><use href="#dia" x="1053.5" y="1452.4"/><use href="#dia" x="1055.1" y="1452.4"/><use href="#dia" x="1056.7" y="1452.4"/><use href="#dia" x="1058.3" y="1452.4"/><use href="#dia" x="1059.9" y="1452.4"/><use href="#dia" x="1061.5" y="1452.4"/><use href="#dia" x="1063.1" y="1452.4"/><use href="#dia" x="1064.7" y="1452.4"/><use href="#dia" x="1066.8" y="1429.5"/><use href="#dia" x="1069.0" y="1420.2"/><use href="#dia" x="1070.6" y="1420.2"/><use href="#dia" x="1072.2" y="1420.2"/><use href="#dia" x="1073.8" y="1420.2"/><use href="#dia" x="1075.4" y="1420.2"/><use href="#dia" x="1077.0" y="1420.2"/><use href="#dia" x="1078.6" y="1420.2"/><use href="#dia" x="1080.2" y="1420.2"/><use href="#dia" x="1082.3" y="1429.5"/><use href="#dia" x="1084.5" y="1525.8"/><use href="#dia" x="1086.1" y="1525.8"/><use href="#dia" x="1087.7" y="1525.8"/><use href="#dia" x="1089.3" y="1525.8"/><use href="#dia" x="1090.9" y="1525.8"/><use href="#dia" x="1092.5" y="1525.8"/><use href="#dia" x="1094.1" y="1525.8"/><use href="#dia" x="1095.7" y="1525.8"/><use href="#dia" x="1097.8" y="1429.5"/><use href="#dia" x="1100.0" y="1478.7"/><use href="#dia" x="1101.6" y="1478.7"/><use href="#dia" x="1103.2" y="1478.7"/><use href="#dia" x="1104.8" y="1478.7"/><use href="#dia" x="1106.4" y="1478.7"/><use href="#dia" x="1108.0" y="1478.7"/><use href="#dia" x="1109.6" y="1478.7"/><use href="#dia" x="1111.2" y="1478.7"/><use href="#dia" x="1113.3" y="1429.5"/><use href="#dia" x="1115.5" y="1437.0"/><use href="#dia" x="1117.1" y="1437.0"/><use href="#dia" x="1118.7" y="1437.0"/><use href="#dia" x="1120.3" y="1437.0"/><use href="#dia" x="1121.9" y="1437.0"/><use href="#dia" x="1123.5" y="1437.0"/><use href="#dia" x="1125.1" y="1437.0"/><use href="#dia" x="1126.7" y="1437.0"/><use href="#dia" x="1128.9" y="1429.5"/><use href="#dia" x="1131.0" y="1457.3"/><use href="#dia" x="1132.6" y="1457.3"/><use href="#dia" x="1134.2" y="1457.3"/><use href="#dia" x="1135.8" y="1457.3"/><use href="#dia" x="1137.4" y="1457.3"/><use href="#dia" x="1139.0" y="1457.3"/><use href="#dia" x="1140.6" y="1457.3"/><use href="#dia" x="1142.2" y="1457.3"/><use href="#dia" x="1144.4" y="1429.5"/><use href="#dia" x="1146.5" y="1402.9"/><use href="#dia" x="1148.1" y="1402.9"/><use href="#dia" x="1149.7" y="1402.9"/><use href="#dia" x="1151.3" y="1402.9"/><use href="#dia" x="1152.9" y="1402.9"/><use href="#dia" x="1154.5" y="1402.9"/><use href="#dia" x="1156.1" y="1402.9"/><use href="#dia" x="1157.7" y="1402.9"/><use href="#dia" x="1159.9" y="1429.5"/><use href="#dia" x="1162.0" y="1370.6"/><use href="#dia" x="1163.6" y="1370.6"/><use href="#dia" x="1165.2" y="1370.6"/><use href="#dia" x="1166.8" y="1370.6"/><use href="#dia" x="1168.4" y="1370.6"/><use href="#dia" x="1170.0" y="1370.6"/><use href="#dia" x="1171.6" y="1370.6"/><use href="#dia" x="1173.2" y="1370.6"/><use href="#dia" x="1175.4" y="1429.5"/><use href="#dia" x="1177.5" y="1450.0"/><use href="#dia" x="1179.1" y="1450.0"/><use href="#dia" x="1180.7" y="1450.0"/><use href="#dia" x="1182.3" y="1450.0"/><use href="#dia" x="1183.9" y="1450.0"/><use href="#dia" x="1185.5" y="1450.0"/><use href="#dia" x="1187.1" y="1450.0"/><use href="#dia" x="1188.7" y="1450.0"/><use href="#dia" x="1190.9" y="1429.5"/><use href="#dia" x="1193.0" y="1410.5"/><use href="#dia" x="1194.6" y="1410.5"/><use href="#dia" x="1196.2" y="1410.5"/><use href="#dia" x="1197.8" y="1410.5"/><use href="#dia" x="1199.4" y="1410.5"/><use href="#dia" x="1201.0" y="1410.5"/><use href="#dia" x="1202.6" y="1410.5"/><use href="#dia" x="1204.2" y="1410.5"/><use href="#dia" x="1206.4" y="1429.5"/><use href="#dia" x="1208.6" y="1437.0"/><use href="#dia" x="1210.2" y="1437.0"/><use href="#dia" x="1211.8" y="1437.0"/><use href="#dia" x="1213.4" y="1437.0"/><use href="#dia" x="1215.0" y="1437.0"/><use href="#dia" x="1216.6" y="1437.0"/><use href="#dia" x="1218.2" y="1437.0"/><use href="#dia" x="1219.8" y="1437.0"/><use href="#dia" x="1221.9" y="1429.5"/><use href="#dia" x="1224.1" y="1492.0"/><use href="#dia" x="1225.7" y="1492.0"/><use href="#dia" x="1227.3" y="1492.0"/><use href="#dia" x="1228.9" y="1492.0"/><use href="#dia" x="1230.5" y="1492.0"/><use href="#dia" x="1232.1" y="1492.0"/><use href="#dia" x="1233.7" y="1492.0"/><use href="#dia" x="1235.3" y="1492.0"/><use href="#dia" x="1237.4" y="1429.5"/><use href="#dia" x="1239.6" y="1442.0"/><use href="#dia" x="1241.2" y="1442.0"/><use href="#dia" x="1242.8" y="1442.0"/><use href="#dia" x="1244.4" y="1442.0"/><use href="#dia" x="1246.0" y="1442.0"/><use href="#dia" x="1247.6" y="1442.0"/><use href="#dia" x="1249.2" y="1442.0"/><use href="#dia" x="1250.8" y="1442.0"/><use href="#dia" x="1252.9" y="1429.5"/><use href="#dia" x="1255.1" y="1463.0"/><use href="#dia" x="1256.7" y="1463.0"/><use href="#dia" x="1258.3" y="1463.0"/><use href="#dia" x="1259.9" y="1463.0"/><use href="#dia" x="1261.5" y="1463.0"/><use href="#dia" x="1263.1" y="1463.0"/><use href="#dia" x="1264.7" y="1463.0"/><use href="#dia" x="1266.3" y="1463.0"/><use href="#dia" x="1268.4" y="1429.5"/><use href="#dia" x="1270.6" y="1414.0"/><use href="#dia" x="1272.2" y="1414.0"/><use href="#dia" x="1273.8" y="1414.0"/><use href="#dia" x="1275.4" y="1414.0"/><use href="#dia" x="1277.0" y="1414.0"/><use href="#dia" x="1278.6" y="1414.0"/><use href="#dia" x="1280.2" y="1414.0"/><use href="#dia" x="1281.8" y="1414.0"/><use href="#dia" x="1283.9" y="1429.5"/><use href="#dia" x="1286.1" y="1477.0"/><use href="#dia" x="1287.7" y="1477.0"/><use href="#dia" x="1289.3" y="1477.0"/><use href="#dia" x="1290.9" y="1477.0"/><use href="#dia" x="1292.5" y="1477.0"/><use href="#dia" x="1294.1" y="1477.0"/><use href="#dia" x="1295.7" y="1477.0"/><use href="#dia" x="1297.3" y="1477.0"/><use href="#dia" x="1299.4" y="1429.5"/><use href="#dia" x="1301.6" y="1422.6"/><use href="#dia" x="1303.2" y="1422.6"/><use href="#dia" x="1304.8" y="1422.6"/><use href="#dia" x="1306.4" y="1422.6"/><use href="#dia" x="1308.0" y="1422.6"/><use href="#dia" x="1309.6" y="1422.6"/><use href="#dia" x="1311.2" y="1422.6"/><use href="#dia" x="1312.8" y="1422.6"/><use href="#dia" x="1315.0" y="1429.5"/><use href="#dia" x="1317.1" y="1417.4"/><use href="#dia" x="1318.7" y="1417.4"/><use href="#dia" x="1320.3" y="1417.4"/><use href="#dia" x="1321.9" y="1417.4"/><use href="#dia" x="1323.5" y="1417.4"/><use href="#dia" x="1325.1" y="1417.4"/><use href="#dia" x="1326.7" y="1417.4"/><use href="#dia" x="1328.3" y="1417.4"/><use href="#dia" x="1330.5" y="1429.5"/><use href="#dia" x="1332.6" y="1433.9"/><use href="#dia" x="1334.2" y="1433.9"/><use href="#dia" x="1335.8" y="1433.9"/><use href="#dia" x="1337.4" y="1433.9"/><use href="#dia" x="1339.0" y="1433.9"/><use href="#dia" x="1340.6" y="1433.9"/><use href="#dia" x="1342.2" y="1433.9"/><use href="#dia" x="1343.8" y="1433.9"/><use href="#dia" x="1346.0" y="1429.5"/><use href="#dia" x="1348.1" y="1473.0"/><use href="#dia" x="1349.7" y="1473.0"/><use href="#dia" x="1351.3" y="1473.0"/><use href="#dia" x="1352.9" y="1473.0"/><use href="#dia" x="1354.5" y="1473.0"/><use href="#dia" x="1356.1" y="1473.0"/><use href="#dia" x="1357.7" y="1473.0"/><use href="#dia" x="1359.3" y="1473.0"/><use href="#dia" x="1361.5" y="1429.5"/><use href="#dia" x="1363.6" y="1360.0"/><use href="#dia" x="1365.2" y="1360.0"/><use href="#dia" x="1366.8" y="1360.0"/><use href="#dia" x="1368.4" y="1360.0"/><use href="#dia" x="1370.0" y="1360.0"/><use href="#dia" x="1371.6" y="1360.0"/><use href="#dia" x="1373.2" y="1360.0"/><use href="#dia" x="1374.8" y="1360.0"/><use href="#dia" x="1377.0" y="1429.5"/><use href="#dia" x="1379.1" y="1354.4"/><use href="#dia" x="1380.7" y="1354.4"/><use href="#dia" x="1382.3" y="1354.4"/><use href="#dia" x="1383.9" y="1354.4"/><use href="#dia" x="1385.5" y="1354.4"/><use href="#dia" x="1387.1" y="1354.4"/><use href="#dia" x="1388.7" y="1354.4"/><use href="#dia" x="1390.3" y="1354.4"/><use href="#dia" x="1392.5" y="1429.5"/><use href="#dia" x="1394.7" y="1456.8"/><use href="#dia" x="1396.3" y="1456.8"/><use href="#dia" x="1397.9" y="1456.8"/><use href="#dia" x="1399.5" y="1456.8"/><use href="#dia" x="1401.1" y="1456.8"/><use href="#dia" x="1402.7" y="1456.8"/><use href="#dia" x="1404.3" y="1456.8"/><use href="#dia" x="1405.9" y="1456.8"/><use href="#dia" x="1408.0" y="1429.5"/><use href="#dia" x="1410.2" y="1433.0"/><use href="#dia" x="1411.8" y="1433.0"/><use href="#dia" x="1413.4" y="1433.0"/><use href="#dia" x="1415.0" y="1433.0"/><use href="#dia" x="1416.6" y="1433.0"/><use href="#dia" x="1418.2" y="1433.0"/><use href="#dia" x="1419.8" y="1433.0"/><use href="#dia" x="1421.4" y="1433.0"/><use href="#dia" x="1423.5" y="1429.5"/><use href="#dia" x="1425.7" y="1487.1"/><use href="#dia" x="1427.3" y="1487.1"/><use href="#dia" x="1428.9" y="1487.1"/><use href="#dia" x="1430.5" y="1487.1"/><use href="#dia" x="1432.1" y="1487.1"/><use href="#dia" x="1433.7" y="1487.1"/><use href="#dia" x="1435.3" y="1487.1"/><use href="#dia" x="1436.9" y="1487.1"/><use href="#dia" x="1439.0" y="1429.5"/><use href="#dia" x="1441.2" y="1450.8"/><use href="#dia" x="1442.8" y="1450.8"/><use href="#dia" x="1444.4" y="1450.8"/><use href="#dia" x="1446.0" y="1450.8"/><use href="#dia" x="1447.6" y="1450.8"/><use href="#dia" x="1449.2" y="1450.8"/><use href="#dia" x="1450.8" y="1450.8"/><use href="#dia" x="1452.4" y="1450.8"/><use href="#dia" x="1454.5" y="1429.5"/><use href="#dia" x="1456.7" y="1408.9"/><use href="#dia" x="1458.3" y="1408.9"/><use href="#dia" x="1459.9" y="1408.9"/><use href="#dia" x="1461.5" y="1408.9"/><use href="#dia" x="1463.1" y="1408.9"/><use href="#dia" x="1464.7" y="1408.9"/><use href="#dia" x="1466.3" y="1408.9"/><use href="#dia" x="1467.9" y="1408.9"/><use href="#dia" x="1470.0" y="1429.5"/><use href="#dia" x="1472.2" y="1496.5"/><use href="#dia" x="1473.8" y="1496.5"/><use href="#dia" x="1475.4" y="1496.5"/><use href="#dia" x="1477.0" y="1496.5"/><use href="#dia" x="1478.6" y="1496.5"/><use href="#dia" x="1480.2" y="1496.5"/><use href="#dia" x="1481.8" y="1496.5"/><use href="#dia" x="1483.4" y="1496.5"/><use href="#dia" x="1485.5" y="1429.5"/><use href="#dia" x="1487.7" y="1492.0"/><use href="#dia" x="1489.3" y="1492.0"/><use href="#dia" x="1490.9" y="1492.0"/><use href="#dia" x="1492.5" y="1492.0"/><use href="#dia" x="1494.1" y="1492.0"/><use href="#dia" x="1495.7" y="1492.0"/><use href="#dia" x="1497.3" y="1492.0"/><use href="#dia" x="1498.9" y="1492.0"/><use href="#dia" x="1501.1" y="1429.5"/><use href="#dia" x="1503.2" y="1324.2"/><use href="#dia" x="1504.8" y="1324.2"/><use href="#dia" x="1506.4" y="1324.2"/><use href="#dia" x="1508.0" y="1324.2"/><use href="#dia" x="1509.6" y="1324.2"/><use href="#dia" x="1511.2" y="1324.2"/><use href="#dia" x="1512.8" y="1324.2"/><use href="#dia" x="1514.4" y="1324.2"/><use href="#dia" x="1516.6" y="1429.5"/><use href="#dia" x="1518.7" y="1526.6"/><use href="#dia" x="1520.3" y="1526.6"/><use href="#dia" x="1521.9" y="1526.6"/><use href="#dia" x="1523.5" y="1526.6"/><use href="#dia" x="1525.1" y="1526.6"/><use href="#dia" x="1526.7" y="1526.6"/><use href="#dia" x="1528.3" y="1526.6"/><use href="#dia" x="1529.9" y="1526.6"/><use href="#dia" x="1532.1" y="1429.5"/><use href="#dia" x="1534.2" y="1327.7"/><use href="#dia" x="1535.8" y="1327.7"/><use href="#dia" x="1537.4" y="1327.7"/><use href="#dia" x="1539.0" y="1327.7"/><use href="#dia" x="1540.6" y="1327.7"/><use href="#dia" x="1542.2" y="1327.7"/><use href="#dia" x="1543.8" y="1327.7"/><use href="#dia" x="1545.4" y="1327.7"/><use href="#dia" x="1547.6" y="1429.5"/><use href="#dia" x="1549.7" y="1464.8"/><use href="#dia" x="1551.3" y="1464.8"/><use href="#dia" x="1552.9" y="1464.8"/><use href="#dia" x="1554.5" y="1464.8"/><use href="#dia" x="1556.1" y="1464.8"/><use href="#dia" x="1557.7" y="1464.8"/><use href="#dia" x="1559.3" y="1464.8"/><use href="#dia" x="1560.9" y="1464.8"/><use href="#dia" x="1563.1" y="1429.5"/><use href="#dia" x="1565.2" y="1368.0"/><use href="#dia" x="1566.8" y="1368.0"/><use href="#dia" x="1568.4" y="1368.0"/><use href="#dia" x="1570.0" y="1368.0"/><use href="#dia" x="1571.6" y="1368.0"/><use href="#dia" x="1573.2" y="1368.0"/><use href="#dia" x="1574.8" y="1368.0"/><use href="#dia" x="1576.4" y="1368.0"/><use href="#dia" x="1578.6" y="1429.5"/><use href="#dia" x="1580.8" y="1443.5"/><use href="#dia" x="1582.4" y="1443.5"/><use href="#dia" x="1584.0" y="1443.5"/><use href="#dia" x="1585.6" y="1443.5"/><use href="#dia" x="1587.2" y="1443.5"/><use href="#dia" x="1588.8" y="1443.5"/><use href="#dia" x="1590.4" y="1443.5"/><use href="#dia" x="1592.0" y="1443.5"/><use href="#dia" x="1594.1" y="1429.5"/><use href="#dia" x="1596.3" y="1472.6"/><use href="#dia" x="1597.9" y="1472.6"/><use href="#dia" x="1599.5" y="1472.6"/><use href="#dia" x="1601.1" y="1472.6"/><use href="#dia" x="1602.7" y="1472.6"/><use href="#dia" x="1604.3" y="1472.6"/><use href="#dia" x="1605.9" y="1472.6"/><use href="#dia" x="1607.5" y="1472.6"/><use href="#dia" x="1609.6" y="1429.5"/><use href="#dia" x="1611.8" y="1477.4"/><use href="#dia" x="1613.4" y="1477.4"/><use href="#dia" x="1615.0" y="1477.4"/><use href="#dia" x="1616.6" y="1477.4"/><use href="#dia" x="1618.2" y="1477.4"/><use href="#dia" x="1619.8" y="1477.4"/><use href="#dia" x="1621.4" y="1477.4"/><use href="#dia" x="1623.0" y="1477.4"/><use href="#dia" x="1625.1" y="1429.5"/><use href="#dia" x="1627.3" y="1514.2"/><use href="#dia" x="1628.9" y="1514.2"/><use href="#dia" x="1630.5" y="1514.2"/><use href="#dia" x="1632.1" y="1514.2"/><use href="#dia" x="1633.7" y="1514.2"/><use href="#dia" x="1635.3" y="1514.2"/><use href="#dia" x="1636.9" y="1514.2"/><use href="#dia" x="1638.5" y="1514.2"/><use href="#dia" x="1640.6" y="1429.5"/><use href="#dia" x="1642.8" y="1398.7"/><use href="#dia" x="1644.4" y="1398.7"/><use href="#dia" x="1646.0" y="1398.7"/><use href="#dia" x="1647.6" y="1398.7"/><use href="#dia" x="1649.2" y="1398.7"/><use href="#dia" x="1650.8" y="1398.7"/><use href="#dia" x="1652.4" y="1398.7"/><use href="#dia" x="1654.0" y="1398.7"/><use href="#dia" x="1656.1" y="1429.5"/><use href="#dia" x="1658.3" y="1481.5"/><use href="#dia" x="1659.9" y="1481.5"/><use href="#dia" x="1661.5" y="1481.5"/><use href="#dia" x="1663.1" y="1481.5"/><use href="#dia" x="1664.7" y="1481.5"/><use href="#dia" x="1666.3" y="1481.5"/><use href="#dia" x="1667.9" y="1481.5"/><use href="#dia" x="1669.5" y="1481.5"/><use href="#dia" x="1671.7" y="1429.5"/><use href="#dia" x="1673.8" y="1442.0"/><use href="#dia" x="1675.4" y="1442.0"/><use href="#dia" x="1677.0" y="1442.0"/><use href="#dia" x="1678.6" y="1442.0"/><use href="#dia" x="1680.2" y="1442.0"/><use href="#dia" x="1681.8" y="1442.0"/><use href="#dia" x="1683.4" y="1442.0"/><use href="#dia" x="1685.0" y="1442.0"/><use href="#dia" x="1687.2" y="1429.5"/><use href="#dia" x="1689.3" y="1435.5"/><use href="#dia" x="1690.9" y="1435.5"/><use href="#dia" x="1692.5" y="1435.5"/><use href="#dia" x="1694.1" y="1435.5"/><use href="#dia" x="1695.7" y="1435.5"/><use href="#dia" x="1697.3" y="1435.5"/><use href="#dia" x="1698.9" y="1435.5"/><use href="#dia" x="1700.5" y="1435.5"/><use href="#dia" x="1702.7" y="1429.5"/><use href="#dia" x="1704.8" y="1480.6"/><use href="#dia" x="1706.4" y="1480.6"/><use href="#dia" x="1708.0" y="1480.6"/><use href="#dia" x="1709.6" y="1480.6"/><use href="#dia" x="1711.2" y="1480.6"/><use href="#dia" x="1712.8" y="1480.6"/><use href="#dia" x="1714.4" y="1480.6"/><use href="#dia" x="1716.0" y="1480.6"/><use href="#dia" x="1718.2" y="1429.5"/><use href="#dia" x="1720.3" y="1411.0"/><use href="#dia" x="1721.9" y="1411.0"/><use href="#dia" x="1723.5" y="1411.0"/><use href="#dia" x="1725.1" y="1411.0"/><use href="#dia" x="1726.7" y="1411.0"/><use href="#dia" x="1728.3" y="1411.0"/><use href="#dia" x="1729.9" y="1411.0"/><use href="#dia" x="1731.5" y="1411.0"/><use href="#dia" x="1733.7" y="1429.5"/><use href="#dia" x="1735.8" y="1451.6"/><use href="#dia" x="1737.4" y="1451.6"/><use href="#dia" x="1739.0" y="1451.6"/><use href="#dia" x="1740.6" y="1451.6"/><use href="#dia" x="1742.2" y="1451.6"/><use href="#dia" x="1743.8" y="1451.6"/><use href="#dia" x="1745.4" y="1451.6"/><use href="#dia" x="1747.0" y="1451.6"/><use href="#dia" x="1749.2" y="1429.5"/><use href="#dia" x="1751.3" y="1448.4"/><use href="#dia" x="1752.9" y="1448.4"/><use href="#dia" x="1754.5" y="1448.4"/><use href="#dia" x="1756.1" y="1448.4"/><use href="#dia" x="1757.7" y="1448.4"/><use href="#dia" x="1759.3" y="1448.4"/><use href="#dia" x="1760.9" y="1448.4"/><use href="#dia" x="1762.5" y="1448.4"/><use href="#dia" x="1764.7" y="1429.5"/><use href="#dia" x="1766.9" y="1442.0"/><use href="#dia" x="1768.5" y="1442.0"/><use href="#dia" x="1770.1" y="1442.0"/><use href="#dia" x="1771.7" y="1442.0"/><use href="#dia" x="1773.3" y="1442.0"/><use href="#dia" x="1774.9" y="1442.0"/><use href="#dia" x="1776.5" y="1442.0"/><use href="#dia" x="1778.1" y="1442.0"/><use href="#dia" x="1780.2" y="1429.5"/><use href="#dia" x="1782.4" y="1444.4"/><use href="#dia" x="1784.0" y="1444.4"/><use href="#dia" x="1785.6" y="1444.4"/><use href="#dia" x="1787.2" y="1444.4"/><use href="#dia" x="1788.8" y="1444.4"/><use href="#dia" x="1790.4" y="1444.4"/><use href="#dia" x="1792.0" y="1444.4"/><use href="#dia" x="1793.6" y="1444.4"/><use href="#dia" x="1795.7" y="1429.5"/><use href="#dia" x="1797.9" y="1404.0"/><use href="#dia" x="1799.5" y="1404.0"/><use href="#dia" x="1801.1" y="1404.0"/><use href="#dia" x="1802.7" y="1404.0"/><use href="#dia" x="1804.3" y="1404.0"/><use href="#dia" x="1805.9" y="1404.0"/><use href="#dia" x="1807.5" y="1404.0"/><use href="#dia" x="1809.1" y="1404.0"/><use href="#dia" x="1811.2" y="1429.5"/><use href="#dia" x="1813.4" y="1431.5"/><use href="#dia" x="1815.0" y="1431.5"/><use href="#dia" x="1816.6" y="1431.5"/><use href="#dia" x="1818.2" y="1431.5"/><use href="#dia" x="1819.8" y="1431.5"/><use href="#dia" x="1821.4" y="1431.5"/><use href="#dia" x="1823.0" y="1431.5"/><use href="#dia" x="1824.6" y="1431.5"/><use href="#dia" x="1826.7" y="1429.5"/><use href="#dia" x="1828.9" y="1378.5"/><use href="#dia" x="1830.5" y="1378.5"/><use href="#dia" x="1832.1" y="1378.5"/><use href="#dia" x="1833.7" y="1378.5"/><use href="#dia" x="1835.3" y="1378.5"/><use href="#dia" x="1836.9" y="1378.5"/><use href="#dia" x="1838.5" y="1378.5"/><use href="#dia" x="1840.1" y="1378.5"/><use href="#dia" x="1842.2" y="1429.5"/><use href="#dia" x="1844.4" y="1490.0"/><use href="#dia" x="1846.0" y="1490.0"/><use href="#dia" x="1847.6" y="1490.0"/><use href="#dia" x="1849.2" y="1490.0"/><use href="#dia" x="1850.8" y="1490.0"/><use href="#dia" x="1852.4" y="1490.0"/><use href="#dia" x="1854.0" y="1490.0"/><use href="#dia" x="1855.6" y="1490.0"/><use href="#dia" x="1857.8" y="1429.5"/><use href="#dia" x="1859.9" y="1396.8"/><use href="#dia" x="1861.5" y="1396.8"/><use href="#dia" x="1863.1" y="1396.8"/><use href="#dia" x="1864.7" y="1396.8"/><use href="#dia" x="1866.3" y="1396.8"/><use href="#dia" x="1867.9" y="1396.8"/><use href="#dia" x="1869.5" y="1396.8"/><use href="#dia" x="1871.1" y="1396.8"/><use href="#dia" x="1873.3" y="1429.5"/><use href="#dia" x="1875.4" y="1337.9"/><use href="#dia" x="1877.0" y="1337.9"/><use href="#dia" x="1878.6" y="1337.9"/><use href="#dia" x="1880.2" y="1337.9"/><use href="#dia" x="1881.8" y="1337.9"/><use href="#dia" x="1883.4" y="1337.9"/><use href="#dia" x="1885.0" y="1337.9"/><use href="#dia" x="1886.6" y="1337.9"/><use href="#dia" x="1888.8" y="1429.5"/><use href="#dia" x="1890.9" y="1440.3"/><use href="#dia" x="1892.5" y="1440.3"/><use href="#dia" x="1894.1" y="1440.3"/><use href="#dia" x="1895.7" y="1440.3"/><use href="#dia" x="1897.3" y="1440.3"/><use href="#dia" x="1898.9" y="1440.3"/><use href="#dia" x="1900.5" y="1440.3"/><use href="#dia" x="1902.1" y="1440.3"/><use href="#dia" x="1904.3" y="1429.5"/><use href="#dia" x="1906.4" y="1523.4"/><use href="#dia" x="1908.0" y="1523.4"/><use href="#dia" x="1909.6" y="1523.4"/><use href="#dia" x="1911.2" y="1523.4"/><use href="#dia" x="1912.8" y="1523.4"/><use href="#dia" x="1914.4" y="1523.4"/><use href="#dia" x="1916.0" y="1523.4"/><use href="#dia" x="1917.6" y="1523.4"/><use href="#dia" x="1919.8" y="1429.5"/><use href="#dia" x="1921.9" y="1425.8"/><use href="#dia" x="1923.5" y="1425.8"/><use href="#dia" x="1925.1" y="1425.8"/><use href="#dia" x="1926.7" y="1425.8"/><use href="#dia" x="1928.3" y="1425.8"/><use href="#dia" x="1929.9" y="1425.8"/><use href="#dia" x="1931.5" y="1425.8"/><use href="#dia" x="1933.1" y="1425.8"/><use href="#dia" x="1935.3" y="1429.5"/><use href="#dia" x="1937.4" y="1433.9"/><use href="#dia" x="1939.0" y="1433.9"/><use href="#dia" x="1940.6" y="1433.9"/><use href="#dia" x="1942.2" y="1433.9"/><use href="#dia" x="1943.8" y="1433.9"/><use href="#dia" x="1945.4" y="1433.9"/><use href="#dia" x="1947.0" y="1433.9"/><use href="#dia" x="1948.6" y="1433.9"/><use href="#dia" x="1950.8" y="1429.5"/><use href="#dia" x="1953.0" y="1348.4"/><use href="#dia" x="1954.6" y="1348.4"/><use href="#dia" x="1956.2" y="1348.4"/><use href="#dia" x="1957.8" y="1348.4"/><use href="#dia" x="1959.4" y="1348.4"/><use href="#dia" x="1961.0" y="1348.4"/><use href="#dia" x="1962.6" y="1348.4"/><use href="#dia" x="1964.2" y="1348.4"/><use href="#dia" x="1966.3" y="1429.5"/><use href="#dia" x="1968.5" y="1408.9"/><use href="#dia" x="1970.1" y="1408.9"/><use href="#dia" x="1971.7" y="1408.9"/><use href="#dia" x="1973.3" y="1408.9"/><use href="#dia" x="1974.9" y="1408.9"/><use href="#dia" x="1976.5" y="1408.9"/><use href="#dia" x="1978.1" y="1408.9"/><use href="#dia" x="1979.7" y="1408.9"/><use href="#dia" x="1981.8" y="1429.5"/><use href="#dia" x="1984.0" y="1414.5"/><use href="#dia" x="1985.6" y="1414.5"/><use href="#dia" x="1987.2" y="1414.5"/><use href="#dia" x="1988.8" y="1414.5"/><use href="#dia" x="1990.4" y="1414.5"/><use href="#dia" x="1992.0" y="1414.5"/><use href="#dia" x="1993.6" y="1414.5"/><use href="#dia" x="1995.2" y="1414.5"/><use href="#dia" x="1997.3" y="1429.5"/><use href="#dia" x="1999.5" y="1438.7"/><use href="#dia" x="2001.1" y="1438.7"/><use href="#dia" x="2002.7" y="1438.7"/><use href="#dia" x="2004.3" y="1438.7"/><use href="#dia" x="2005.9" y="1438.7"/><use href="#dia" x="2007.5" y="1438.7"/><use href="#dia" x="2009.1" y="1438.7"/><use href="#dia" x="2010.7" y="1438.7"/><use href="#dia" x="2012.8" y="1429.5"/><use href="#dia" x="2015.0" y="1450.8"/><use href="#dia" x="2016.6" y="1450.8"/><use href="#dia" x="2018.2" y="1450.8"/><use href="#dia" x="2019.8" y="1450.8"/><use href="#dia" x="2021.4" y="1450.8"/><use href="#dia" x="2023.0" y="1450.8"/><use href="#dia" x="2024.6" y="1450.8"/><use href="#dia" x="2026.2" y="1450.8"/><use href="#dia" x="2028.3" y="1429.5"/><use href="#dia" x="2030.5" y="1418.5"/><use href="#dia" x="2032.1" y="1418.5"/><use href="#dia" x="2033.7" y="1418.5"/><use href="#dia" x="2035.3" y="1418.5"/><use href="#dia" x="2036.9" y="1418.5"/><use href="#dia" x="2038.5" y="1418.5"/><use href="#dia" x="2040.1" y="1418.5"/><use href="#dia" x="2041.7" y="1418.5"/><use href="#dia" x="2043.8" y="1429.5"/><use href="#dia" x="2046.0" y="1403.2"/><use href="#dia" x="2047.6" y="1403.2"/><use href="#dia" x="2049.2" y="1403.2"/><use href="#dia" x="2050.8" y="1403.2"/><use href="#dia" x="2052.4" y="1403.2"/><use href="#dia" x="2054.0" y="1403.2"/><use href="#dia" x="2055.6" y="1403.2"/><use href="#dia" x="2057.2" y="1403.2"/><use href="#dia" x="2059.4" y="1429.5"/><use href="#dia" x="2061.5" y="1333.0"/><use href="#dia" x="2063.1" y="1333.0"/><use href="#dia" x="2064.7" y="1333.0"/><use href="#dia" x="2066.3" y="1333.0"/><use href="#dia" x="2067.9" y="1333.0"/><use href="#dia" x="2069.5" y="1333.0"/><use href="#dia" x="2071.1" y="1333.0"/><use href="#dia" x="2072.7" y="1333.0"/><use href="#dia" x="2074.9" y="1429.5"/><use href="#dia" x="2077.0" y="1409.7"/><use href="#dia" x="2078.6" y="1409.7"/><use href="#dia" x="2080.2" y="1409.7"/><use href="#dia" x="2081.8" y="1409.7"/><use href="#dia" x="2083.4" y="1409.7"/><use href="#dia" x="2085.0" y="1409.7"/><use href="#dia" x="2086.6" y="1409.7"/><use href="#dia" x="2088.2" y="1409.7"/><use href="#dia" x="2090.4" y="1429.5"/><use href="#dia" x="2092.5" y="1456.8"/><use href="#dia" x="2094.1" y="1456.8"/><use href="#dia" x="2095.7" y="1456.8"/><use href="#dia" x="2097.3" y="1456.8"/><use href="#dia" x="2098.9" y="1456.8"/><use href="#dia" x="2100.5" y="1456.8"/><use href="#dia" x="2102.1" y="1456.8"/><use href="#dia" x="2103.7" y="1456.8"/><use href="#dia" x="2105.9" y="1429.5"/><use href="#dia" x="2108.0" y="1390.0"/><use href="#dia" x="2109.6" y="1390.0"/><use href="#dia" x="2111.2" y="1390.0"/><use href="#dia" x="2112.8" y="1390.0"/><use href="#dia" x="2114.4" y="1390.0"/><use href="#dia" x="2116.0" y="1390.0"/><use href="#dia" x="2117.6" y="1390.0"/><use href="#dia" x="2119.2" y="1390.0"/><use href="#dia" x="2121.4" y="1429.5"/><use href="#dia" x="2123.5" y="1506.5"/><use href="#dia" x="2125.1" y="1506.5"/><use href="#dia" x="2126.7" y="1506.5"/><use href="#dia" x="2128.3" y="1506.5"/><use href="#dia" x="2129.9" y="1506.5"/><use href="#dia" x="2131.5" y="1506.5"/><use href="#dia" x="2133.1" y="1506.5"/><use href="#dia" x="2134.7" y="1506.5"/></g></g>
<g><polyline fill="none" stroke="#00f" stroke-width="9.4" stroke-dasharray="56 6" shape-rendering="crispEdges" points="283.0,359.7 285.5,352.2 288.4,333.6 291.6,281.7 294.2,281.7 296.7,281.7 299.3,281.7 301.8,281.7 304.4,281.7 307.0,281.7 309.5,281.7 312.1,281.7 314.7,281.7 317.2,281.7 319.8,281.7 324.6,294.6 327.0,294.6 329.5,294.6 331.9,294.6 334.3,294.6 336.7,294.6 339.1,294.6 339.9,303.0 342.5,303.0 345.1,303.0 347.7,303.0 350.2,303.0 352.8,303.0 352.8,290.1 355.6,290.1 358.3,290.1 361.0,290.1 363.8,290.1 366.5,290.1 368.9,318.4 371.4,312.1 373.9,309.8 376.5,307.4 379.1,305.0 381.0,298.6 381.7,302.6 384.3,300.2 386.9,297.8 389.5,295.4 392.1,293.1 394.6,290.7 397.2,288.3 399.8,285.9 402.4,283.5 405.0,281.1 407.6,278.7 410.2,276.3 412.8,274.0 414.9,295.4 417.5,295.4 420.1,295.4 422.7,295.4 425.3,295.4 427.7,267.2 427.9,295.4 430.5,295.4 430.6,309.5 433.1,295.4 435.7,295.4 438.3,295.4 440.9,295.4 443.5,295.4 446.1,295.4 446.3,314.3 448.7,295.4 450.3,302.6 452.9,301.2 455.6,299.7 458.2,298.3 460.8,296.8 463.5,295.4 466.1,293.9 468.7,292.5 471.4,291.0 474.0,289.6 476.6,288.1 479.3,286.7 481.9,285.2 484.5,283.8 487.2,282.3 489.8,280.9 491.4,298.6 492.5,312.7 493.8,298.6 496.2,298.6 498.6,298.6 501.1,298.6 503.5,298.6 505.9,298.6 506.7,288.1 509.4,288.1 512.1,288.1 514.8,288.1 517.4,288.1 520.1,288.1 522.8,288.1 524.1,320.8 526.5,320.8 528.9,320.8 531.3,320.8 533.6,320.8 536.0,320.8 537.3,284.1 540.0,282.2 542.7,280.3 545.5,278.4 548.2,276.5 550.9,274.6 553.6,272.7 556.3,270.8 559.0,268.9 561.7,267.0 564.4,265.1 567.1,263.2 568.7,296.0 571.2,296.0 573.6,296.0 576.0,296.0 576.6,291.4 578.4,296.0 579.1,291.4 580.8,296.0 581.7,291.4 583.2,296.0 584.2,291.4 585.7,296.0 586.7,291.4 589.3,291.4 591.8,291.4 594.3,291.4 598.4,282.5 600.8,297.0 601.6,311.9 603.2,297.0 605.6,297.0 608.0,297.0 610.5,297.0 612.9,297.0 615.3,297.0 615.3,295.4 618.0,293.5 620.7,291.6 623.4,289.7 626.1,287.8 628.8,285.9 631.5,284.0 634.3,282.1 637.0,280.2 639.7,278.3 642.4,276.3 645.1,274.4 646.7,288.9 647.8,307.1 649.1,288.9 651.5,288.9 654.0,288.9 656.4,288.9 658.8,288.9 660.4,276.1 662.0,301.4 664.4,296.2 666.8,290.9 669.3,285.7 671.7,280.5 679.6,258.7 682.5,251.5 685.4,243.4 688.6,236.2 691.3,228.1 694.7,289.3 697.4,289.3 700.0,289.3 702.6,289.3 705.2,289.3 706.8,259.9 707.9,289.3 710.5,289.3 713.1,289.3 715.8,289.3 718.4,289.3 721.0,289.3 722.4,260.7 723.6,289.3 726.3,289.3 728.9,289.3 731.5,289.3 734.2,289.3 736.8,289.3 737.7,261.6 739.4,289.3 742.1,289.3 744.7,289.3 747.3,289.3 749.9,289.3 752.6,289.3 755.5,280.9 757.9,280.9 760.3,280.9 762.7,280.9 765.1,280.9 767.6,280.9 770.0,280.9 771.9,331.6 774.4,331.6 776.8,331.6 779.3,331.6 781.7,331.6 784.2,331.6 786.1,291.4 788.5,291.4 790.9,291.4 793.3,291.4 795.8,291.4 798.2,291.4 800.6,291.4 802.2,305.9 804.6,305.9 807.0,305.9 809.5,305.9 809.9,322.1 811.9,305.9 812.7,322.1 814.3,305.9 815.4,322.1 816.7,305.9 819.1,294.6 821.5,299.4 824.1,299.4 826.6,299.4 829.1,299.4 831.7,299.4 834.2,299.4 836.7,299.4 839.3,299.4 839.3,296.6 840.4,278.9 841.7,296.6 843.6,269.2 844.1,296.6 846.5,296.6 846.8,257.9 848.9,296.6 861.8,252.7 865.4,309.5 879.5,295.0 882.2,295.0 884.9,295.0 885.0,291.8 887.4,291.8 887.6,295.0 887.6,258.3 888.2,258.3 889.8,291.8 890.0,258.3 890.3,295.0 891.4,258.3 892.3,291.8 892.4,258.3 893.0,295.0 894.7,258.3 894.7,291.8 894.9,258.3 895.7,295.0 897.3,258.3 908.2,244.6 912.1,278.9 914.5,272.4 916.9,266.0 920.1,257.9 923.4,249.0 927.2,301.4 939.8,301.4 940.6,286.5 942.5,300.2 943.1,286.5 945.3,298.9 945.7,286.5 948.1,297.6 948.2,286.5 950.8,286.5 950.8,296.4 953.3,286.5 953.6,295.1 955.9,286.5 956.4,293.8 959.1,292.6 960.7,293.4 962.3,296.2 963.4,293.4 964.9,295.3 966.0,293.4 967.5,294.5 968.6,293.4 970.1,293.6 971.3,293.4 972.7,292.8 973.9,293.4 975.2,291.9 976.6,293.4 977.8,291.0 979.2,293.4 980.4,290.2 981.8,293.4 983.0,289.3 984.5,293.4 985.5,288.5 987.1,293.4 988.1,287.6 989.7,293.4 990.7,286.7 992.2,297.4 993.3,285.9 994.8,297.4 995.9,285.0 997.5,297.4 998.4,284.2 1000.2,297.4 1001.0,283.3 1002.8,297.4 1005.5,297.4 1008.1,297.4 1010.8,297.4 1013.5,297.4 1016.1,297.4 1018.8,297.4 1020.4,275.2 1021.5,297.4 1023.6,278.0 1024.1,297.4 1026.4,280.5 1026.8,297.4 1029.3,282.9 1032.1,285.3 1035.7,328.4 1036.1,325.6 1038.5,327.9 1040.9,330.1 1043.3,332.4 1045.7,334.6 1048.1,336.9 1051.0,328.4 1063.9,336.9 1066.8,290.9 1068.7,293.8 1071.4,295.4 1074.1,297.0 1076.8,298.6 1079.4,300.2 1082.1,301.8 1084.8,303.4 1086.4,309.5 1087.5,305.1 1089.1,309.7 1090.2,306.7 1091.8,309.9 1092.9,308.3 1094.5,310.0 1097.2,310.2 1097.4,304.3 1099.8,310.4 1102.5,310.6 1105.2,310.7 1107.9,310.9 1110.6,311.1 1113.0,293.0 1123.3,309.5 1125.8,312.9 1128.3,316.4 1130.8,319.9 1133.4,323.3 1135.9,326.8 1138.4,330.2 1140.9,333.7 1144.1,300.7 1144.1,300.8 1146.8,303.9 1149.6,307.0 1152.3,310.1 1155.1,313.2 1157.8,316.3 1160.5,319.4 1163.3,322.5 1166.0,325.6 1166.0,325.6 1168.7,331.2 1171.5,336.9 1174.2,342.5 1176.9,348.1 1179.6,353.8 1182.3,359.4 1185.1,365.1 1187.8,370.7 1190.7,305.0 1203.1,331.2 1203.2,331.2 1204.7,296.6 1204.7,325.6 1206.5,285.0 1207.2,325.4 1207.4,296.8 1209.8,325.2 1210.0,297.1 1212.3,325.0 1212.7,297.4 1214.9,324.8 1215.4,297.7 1217.5,324.7 1218.1,297.9 1220.0,324.5 1220.8,298.2 1221.5,280.1 1222.6,324.3 1223.5,298.5 1224.5,289.3 1225.1,324.1 1226.2,298.7 1227.7,323.9 1228.8,299.0 1230.3,323.7 1231.5,299.3 1232.8,323.5 1234.2,299.5 1235.4,323.3 1236.9,299.8 1237.4,296.6 1237.4,296.6 1237.9,323.1 1239.9,301.5 1240.5,323.0 1242.5,306.5 1243.1,322.8 1245.0,311.4 1245.6,322.6 1247.6,316.4 1248.2,322.4 1250.1,321.3 1250.3,332.1 1252.7,326.3 1255.2,331.2 1257.8,336.2 1260.3,341.1 1261.5,340.9 1262.9,346.1 1265.4,351.0 1265.4,351.1 1268.3,306.7 1279.9,341.7 1279.9,341.7 1282.5,339.1 1283.6,267.2 1285.2,336.4 1286.8,275.6 1287.8,333.8 1290.4,331.1 1293.0,328.5 1295.7,325.8 1298.3,323.2 1298.3,323.2 1300.9,320.1 1303.4,317.1 1306.0,314.0 1306.2,290.6 1308.6,310.9 1308.8,288.6 1311.2,307.9 1311.4,286.7 1314.0,284.8 1316.7,282.9 1319.3,281.0 1321.9,279.1 1324.5,277.2 1327.1,275.2 1342.4,287.3 1346.1,297.4 1348.8,297.4 1351.4,297.4 1354.0,297.4 1356.6,297.4 1357.7,288.9 1359.2,297.4 1361.8,297.4 1362.6,297.0 1364.4,297.4 1365.2,295.5 1367.0,297.4 1367.9,293.9 1369.6,297.4 1370.6,292.4 1372.3,297.4 1372.3,291.8 1373.2,290.9 1375.1,291.2 1375.9,289.3 1377.9,290.6 1378.5,287.8 1380.7,290.0 1381.2,286.3 1383.5,289.3 1383.9,284.8 1386.5,283.2 1389.2,281.7 1390.8,283.7 1393.5,287.7 1396.3,291.8 1396.3,291.8 1398.9,296.0 1401.5,300.2 1404.1,304.4 1406.7,308.6 1409.3,312.8 1411.9,317.0 1414.6,321.2 1417.2,325.4 1419.8,329.6 1419.8,329.6 1420.6,327.2 1423.0,305.1 1423.1,327.2 1425.7,327.2 1428.2,327.2 1430.8,327.2 1433.3,327.2 1435.9,327.2 1438.5,327.2 1438.8,308.8 1441.0,327.2 1443.6,327.2 1446.1,327.2 1448.7,327.2 1450.4,308.3 1451.2,331.2 1451.2,327.2 1453.0,308.3 1455.7,308.3 1458.3,308.3 1461.0,308.3 1463.6,308.3 1466.2,308.3 1467.3,324.8 1468.9,308.3 1469.7,286.0 1470.0,324.8 1471.5,308.3 1472.6,324.8 1474.2,308.3 1475.2,324.8 1476.8,308.3 1477.9,324.8 1479.5,308.3 1480.5,324.8 1482.1,308.3 1483.1,324.8 1484.7,308.3 1485.8,324.8 1487.4,308.3 1488.4,324.8 1490.0,308.3 1491.1,324.8 1492.7,308.3 1493.7,324.8 1495.3,308.3 1496.3,324.8 1497.9,308.3 1500.7,283.3 1503.1,283.3 1505.4,283.3 1507.8,283.3 1508.2,323.7 1509.2,312.7 1510.2,283.3 1510.9,323.7 1511.8,312.7 1512.6,283.3 1513.6,323.7 1514.4,312.7 1516.3,323.7 1517.0,312.7 1519.0,323.7 1519.5,312.7 1521.7,323.7 1522.1,312.7 1523.7,321.6 1524.3,323.7 1526.5,321.6 1527.0,323.7 1529.4,321.6 1529.7,323.7 1532.2,321.6 1532.4,323.7 1535.0,321.6 1544.5,323.7 1562.2,292.7 1564.6,292.7 1567.0,292.7 1569.5,292.7 1571.5,300.3 1571.9,292.7 1574.3,292.7 1574.8,294.3 1578.0,288.2 1578.3,288.3 1580.7,320.5 1583.2,321.1 1585.7,321.6 1588.2,322.2 1588.3,325.3 1590.7,322.8 1590.7,341.4 1590.7,341.4 1593.2,323.4 1593.3,345.9 1595.7,324.0 1595.9,350.4 1598.2,324.6 1598.5,354.9 1600.7,325.2 1601.0,359.5 1603.1,325.7 1603.6,364.0 1603.6,364.0 1605.6,326.3 1606.0,377.7 1606.0,377.7 1608.1,326.9 1608.6,378.9 1609.4,304.0 1611.2,380.2 1613.8,381.5 1614.6,339.8 1616.2,376.9 1616.5,382.8 1617.2,340.3 1618.9,378.5 1619.1,384.0 1619.7,340.8 1621.6,380.1 1621.7,385.3 1622.3,341.3 1624.2,381.7 1624.3,386.6 1624.9,341.7 1626.9,387.9 1626.9,383.3 1627.5,342.2 1629.5,389.2 1629.6,384.9 1630.0,342.7 1632.1,390.4 1632.3,386.6 1632.6,343.2 1634.7,391.7 1635.2,343.7 1637.3,393.0 1637.3,393.0 1637.8,344.2 1640.4,311.2 1640.4,344.6 1642.9,345.1 1645.5,345.6 1648.1,346.1 1650.7,346.6 1653.2,347.1 1654.9,373.6 1655.7,316.1 1655.8,347.5 1657.5,372.7 1658.4,348.0 1660.2,371.7 1661.0,348.5 1662.9,370.7 1663.6,349.0 1664.7,355.9 1665.6,369.8 1666.1,349.5 1668.2,368.8 1668.2,368.8 1677.7,302.7 1681.0,298.7 1684.2,293.9 1686.3,322.1 1689.0,317.9 1691.8,313.6 1694.5,309.4 1697.2,305.2 1700.0,300.9 1702.7,296.7 1705.5,292.5 1708.2,288.3 1711.6,285.0 1714.8,281.0 1724.5,275.3 1726.9,271.3 1730.1,267.3 1738.6,289.9 1741.2,291.8 1743.8,293.7 1746.4,295.7 1748.6,285.0 1749.0,297.6 1751.2,280.4 1751.5,299.5 1753.7,275.9 1756.2,271.3 1758.7,266.7 1761.2,262.1 1764.3,299.5 1766.8,306.8 1769.4,314.0 1772.0,321.3 1774.6,328.5 1777.2,335.8 1778.9,338.2 1778.9,314.0 1781.5,314.2 1781.5,337.5 1784.0,314.4 1784.1,336.8 1786.6,314.5 1786.7,336.1 1789.1,314.7 1789.3,335.3 1791.7,314.9 1791.9,334.6 1792.5,339.0 1794.2,315.0 1794.5,333.9 1796.2,297.9 1796.7,315.2 1797.1,333.2 1799.3,315.4 1799.7,332.5 1801.8,315.5 1802.3,331.8 1804.4,315.7 1804.9,331.1 1806.9,315.9 1807.5,330.3 1809.5,316.1 1810.1,329.6 1810.7,281.1 1812.0,316.2 1812.7,328.9 1813.3,288.2 1814.6,316.4 1815.3,328.2 1817.1,316.6 1817.9,327.5 1818.2,309.5 1819.6,316.7 1820.5,326.8 1820.8,313.5 1822.2,316.9 1823.1,326.0 1823.5,317.5 1824.7,317.1 1825.7,325.3 1826.1,321.6 1827.1,325.3 1827.3,317.2 1828.7,325.6 1829.5,331.8 1831.3,329.6 1831.9,338.2 1833.9,333.6 1834.4,344.7 1835.6,352.2 1836.6,337.7 1836.8,351.1 1838.5,357.8 1839.2,341.7 1839.2,357.5 1841.8,301.6 1842.4,328.8 1844.9,329.7 1847.2,309.5 1847.4,330.6 1849.8,309.8 1849.9,331.4 1852.4,332.3 1852.4,310.1 1854.8,333.2 1855.0,310.4 1857.3,334.1 1857.5,310.8 1859.8,335.0 1860.1,311.1 1862.3,335.8 1862.7,311.4 1864.8,336.7 1865.3,311.7 1866.1,282.1 1867.3,337.6 1867.9,312.0 1869.3,278.0 1869.8,338.5 1869.8,293.4 1870.4,312.4 1872.3,292.8 1872.5,340.9 1873.0,312.7 1874.9,292.3 1875.1,338.0 1877.4,291.7 1877.7,335.0 1880.0,291.2 1880.4,332.1 1882.5,290.7 1883.0,329.2 1885.1,290.1 1885.6,326.3 1887.6,289.6 1889.1,296.6 1890.2,289.1 1891.8,296.6 1892.7,288.5 1894.5,296.6 1895.3,288.0 1897.2,296.6 1897.5,270.8 1897.9,287.4 1899.9,296.6 1899.9,267.1 1900.4,286.9 1902.6,296.6 1903.0,286.4 1903.6,296.6 1905.2,296.6 1905.2,296.6 1905.5,285.8 1907.7,297.1 1908.1,285.3 1910.3,297.7 1910.6,284.8 1912.8,298.2 1913.2,284.2 1915.3,298.7 1915.7,283.7 1917.8,299.3 1918.3,283.2 1920.3,299.8 1920.8,282.6 1922.8,300.4 1923.4,282.1 1925.3,300.9 1925.9,281.5 1927.8,301.4 1927.8,302.7 1928.5,281.0 1928.6,258.7 1930.2,302.7 1931.0,280.5 1931.3,255.0 1932.6,302.7 1934.7,302.7 1935.0,302.7 1937.5,302.7 1937.5,301.4 1940.0,301.1 1942.4,300.8 1944.9,300.6 1947.4,300.3 1949.9,300.0 1950.5,285.0 1952.4,299.7 1954.1,289.3 1954.9,299.4 1957.3,293.4 1957.4,299.1 1959.9,298.8 1962.0,298.2 1962.1,299.0 1962.4,298.5 1964.9,298.2 1966.1,335.3 1966.8,337.2 1968.6,338.2 1971.1,341.1 1973.6,344.0 1976.1,346.9 1978.6,349.8 1992.3,319.1 1993.4,339.3 1994.8,319.3 1997.1,305.9 1997.4,319.4 2000.0,319.5 2002.6,319.7 2005.1,319.8 2007.7,319.9 2008.4,324.0 2010.3,320.0 2010.9,323.5 2012.4,311.5 2012.9,320.2 2013.4,322.9 2015.5,320.3 2015.9,322.4 2018.0,320.4 2018.4,321.8 2020.6,320.6 2020.9,321.3 2023.2,320.7 2023.4,320.8 2025.8,320.8 2025.9,320.2 2027.7,301.8 2028.3,320.9 2028.4,319.7 2030.9,321.1 2030.9,319.2 2033.5,321.2 2036.1,321.3 2038.7,321.5 2041.2,321.6 2043.8,321.7 2044.3,330.4 2046.4,321.8 2047.2,333.9 2049.0,322.0 2050.0,337.3 2051.5,322.1 2052.9,340.7 2054.1,322.2 2055.7,344.1 2056.7,322.4 2058.3,299.4 2058.6,297.9 2061.2,300.2 2063.8,302.5 2066.4,304.8 2069.0,307.2 2071.5,309.5 2072.8,322.4 2072.8,322.4 2075.2,323.2 2075.5,322.6 2077.7,324.0 2078.2,322.8 2080.1,324.8 2080.9,323.0 2082.5,325.6 2083.6,323.2 2084.9,326.4 2086.2,323.4 2087.3,327.2 2088.9,323.7 2091.6,323.9 2094.3,324.1 2097.0,324.3 2099.7,324.5 2102.4,324.7 2102.5,332.9 2105.0,324.9 2105.4,299.0 2107.7,325.2 2110.4,325.4 2112.8,307.9 2113.1,325.6 2116.8,312.4 2120.5,270.6 2123.7,273.7 2126.5,277.9 2130.7,280.6 2133.6,283.9"/><g shape-rendering="crispEdges"><use href="#star" x="283.0" y="359.7"/><use href="#star" x="285.5" y="352.2"/><use href="#star" x="288.4" y="333.6"/><use href="#star" x="291.6" y="281.7"/><use href="#star" x="294.2" y="281.7"/><use href="#star" x="296.7" y="281.7"/><use href="#star" x="299.3" y="281.7"/><use href="#star" x="301.8" y="281.7"/><use href="#star" x="304.4" y="281.7"/><use href="#star" x="307.0" y="281.7"/><use href="#star" x="309.5" y="281.7"/><use href="#star" x="312.1" y="281.7"/><use href="#star" x="314.7" y="281.7"/><use href="#star" x="317.2" y="281.7"/><use href="#star" x="319.8" y="281.7"/><use href="#star" x="324.6" y="294.6"/><use href="#star" x="327.0" y="294.6"/><use href="#star" x="329.5" y="294.6"/><use href="#star" x="331.9" y="294.6"/><use href="#star" x="334.3" y="294.6"/><use href="#star" x="336.7" y="294.6"/><use href="#star" x="339.1" y="294.6"/><use href="#star" x="339.9" y="303.0"/><use href="#star" x="342.5" y="303.0"/><use href="#star" x="345.1" y="303.0"/><use href="#star" x="347.7" y="303.0"/><use href="#star" x="350.2" y="303.0"/><use href="#star" x="352.8" y="303.0"/><use href="#star" x="352.8" y="290.1"/><use href="#star" x="355.6" y="290.1"/><use href="#star" x="358.3" y="290.1"/><use href="#star" x="361.0" y="290.1"/><use href="#star" x="363.8" y="290.1"/><use href="#star" x="366.5" y="290.1"/><use href="#star" x="368.9" y="318.4"/><use href="#star" x="371.4" y="312.1"/><use href="#star" x="373.9" y="309.8"/><use href="#star" x="376.5" y="307.4"/><use href="#star" x="379.1" y="305.0"/><use href="#star" x="381.0" y="298.6"/><use href="#star" x="381.7" y="302.6"/><use href="#star" x="384.3" y="300.2"/><use href="#star" x="386.9" y="297.8"/><use href="#star" x="389.5" y="295.4"/><use href="#star" x="392.1" y="293.1"/><use href="#star" x="394.6" y="290.7"/><use href="#star" x="397.2" y="288.3"/><use href="#star" x="399.8" y="285.9"/><use href="#star" x="402.4" y="283.5"/><use href="#star" x="405.0" y="281.1"/><use href="#star" x="407.6" y="278.7"/><use href="#star" x="410.2" y="276.3"/><use href="#star" x="412.8" y="274.0"/><use href="#star" x="414.9" y="295.4"/><use href="#star" x="417.5" y="295.4"/><use href="#star" x="420.1" y="295.4"/><use href="#star" x="422.7" y="295.4"/><use href="#star" x="425.3" y="295.4"/><use href="#star" x="427.7" y="267.2"/><use href="#star" x="427.9" y="295.4"/><use href="#star" x="430.5" y="295.4"/><use href="#star" x="430.6" y="309.5"/><use href="#star" x="433.1" y="295.4"/><use href="#star" x="435.7" y="295.4"/><use href="#star" x="438.3" y="295.4"/><use href="#star" x="440.9" y="295.4"/><use href="#star" x="443.5" y="295.4"/><use href="#star" x="446.1" y="295.4"/><use href="#star" x="446.3" y="314.3"/><use href="#star" x="448.7" y="295.4"/><use href="#star" x="450.3" y="302.6"/><use href="#star" x="452.9" y="301.2"/><use href="#star" x="455.6" y="299.7"/><use href="#star" x="458.2" y="298.3"/><use href="#star" x="460.8" y="296.8"/><use href="#star" x="463.5" y="295.4"/><use href="#star" x="466.1" y="293.9"/><use href="#star" x="468.7" y="292.5"/><use href="#star" x="471.4" y="291.0"/><use href="#star" x="474.0" y="289.6"/><use href="#star" x="476.6" y="288.1"/><use href="#star" x="479.3" y="286.7"/><use href="#star" x="481.9" y="285.2"/><use href="#star" x="484.5" y="283.8"/><use href="#star" x="487.2" y="282.3"/><use href="#star" x="489.8" y="280.9"/><use href="#star" x="491.4" y="298.6"/><use href="#star" x="492.5" y="312.7"/><use href="#star" x="493.8" y="298.6"/><use href="#star" x="496.2" y="298.6"/><use href="#star" x="498.6" y="298.6"/><use href="#star" x="501.1" y="298.6"/><use href="#star" x="503.5" y="298.6"/><use href="#star" x="505.9" y="298.6"/><use href="#star" x="506.7" y="288.1"/><use href="#star" x="509.4" y="288.1"/><use href="#star" x="512.1" y="288.1"/><use href="#star" x="514.8" y="288.1"/><use href="#star" x="517.4" y="288.1"/><use href="#star" x="520.1" y="288.1"/><use href="#star" x="522.8" y="288.1"/><use href="#star" x="524.1" y="320.8"/><use href="#star" x="526.5" y="320.8"/><use href="#star" x="528.9" y="320.8"/><use href="#star" x="531.3" y="320.8"/><use href="#star" x="533.6" y="320.8"/><use href="#star" x="536.0" y="320.8"/><use href="#star" x="537.3" y="284.1"/><use href="#star" x="540.0" y="282.2"/><use href="#star" x="542.7" y="280.3"/><use href="#star" x="545.5" y="278.4"/><use href="#star" x="548.2" y="276.5"/><use href="#star" x="550.9" y="274.6"/><use href="#star" x="553.6" y="272.7"/><use href="#star" x="556.3" y="270.8"/><use href="#star" x="559.0" y="268.9"/><use href="#star" x="561.7" y="267.0"/><use href="#star" x="564.4" y="265.1"/><use href="#star" x="567.1" y="263.2"/><use href="#star" x="568.7" y="296.0"/><use href="#star" x="571.2" y="296.0"/><use href="#star" x="573.6" y="296.0"/><use href="#star" x="576.0" y="296.0"/><use href="#star" x="576.6" y="291.4"/><use href="#star" x="578.4" y="296.0"/><use href="#star" x="579.1" y="291.4"/><use href="#star" x="580.8" y="296.0"/><use href="#star" x="581.7" y="291.4"/><use href="#star" x="583.2" y="296.0"/><use href="#star" x="584.2" y="291.4"/><use href="#star" x="585.7" y="296.0"/><use href="#star" x="586.7" y="291.4"/><use href="#star" x="589.3" y="291.4"/><use href="#star" x="591.8" y="291.4"/><use href="#star" x="594.3" y="291.4"/><use href="#star" x="598.4" y="282.5"/><use href="#star" x="600.8" y="297.0"/><use href="#star" x="601.6" y="311.9"/><use href="#star" x="603.2" y="297.0"/><use href="#star" x="605.6" y="297.0"/><use href="#star" x="608.0" y="297.0"/><use href="#star" x="610.5" y="297.0"/><use href="#star" x="612.9" y="297.0"/><use href="#star" x="615.3" y="297.0"/><use href="#star" x="615.3" y="295.4"/><use href="#star" x="618.0" y="293.5"/><use href="#star" x="620.7" y="291.6"/><use href="#star" x="623.4" y="289.7"/><use href="#star" x="626.1" y="287.8"/><use href="#star" x="628.8" y="285.9"/><use href="#star" x="631.5" y="284.0"/><use href="#star" x="634.3" y="282.1"/><use href="#star" x="637.0" y="280.2"/><use href="#star" x="639.7" y="278.3"/><use href="#star" x="642.4" y="276.3"/><use href="#star" x="645.1" y="274.4"/><use href="#star" x="646.7" y="288.9"/><use href="#star" x="647.8" y="307.1"/><use href="#star" x="649.1" y="288.9"/><use href="#star" x="651.5" y="288.9"/><use href="#star" x="654.0" y="288.9"/><use href="#star" x="656.4" y="288.9"/><use href="#star" x="658.8" y="288.9"/><use href="#star" x="660.4" y="276.1"/><use href="#star" x="662.0" y="301.4"/><use href="#star" x="664.4" y="296.2"/><use href="#star" x="666.8" y="290.9"/><use href="#star" x="669.3" y="285.7"/><use href="#star" x="671.7" y="280.5"/><use href="#star" x="679.6" y="258.7"/><use href="#star" x="682.5" y="251.5"/><use href="#star" x="685.4" y="243.4"/><use href="#star" x="688.6" y="236.2"/><use href="#star" x="691.3" y="228.1"/><use href="#star" x="694.7" y="289.3"/><use href="#star" x="697.4" y="289.3"/><use href="#star" x="700.0" y="289.3"/><use href="#star" x="702.6" y="289.3"/><use href="#star" x="705.2" y="289.3"/><use href="#star" x="706.8" y="259.9"/><use href="#star" x="707.9" y="289.3"/><use href="#star" x="710.5" y="289.3"/><use href="#star" x="713.1" y="289.3"/><use href="#star" x="715.8" y="289.3"/><use href="#star" x="718.4" y="289.3"/><use href="#star" x="721.0" y="289.3"/><use href="#star" x="722.4" y="260.7"/><use href="#star" x="723.6" y="289.3"/><use href="#star" x="726.3" y="289.3"/><use href="#star" x="728.9" y="289.3"/><use href="#star" x="731.5" y="289.3"/><use href="#star" x="734.2" y="289.3"/><use href="#star" x="736.8" y="289.3"/><use href="#star" x="737.7" y="261.6"/><use href="#star" x="739.4" y="289.3"/><use href="#star" x="742.1" y="289.3"/><use href="#star" x="744.7" y="289.3"/><use href="#star" x="747.3" y="289.3"/><use href="#star" x="749.9" y="289.3"/><use href="#star" x="752.6" y="289.3"/><use href="#star" x="755.5" y="280.9"/><use href="#star" x="757.9" y="280.9"/><use href="#star" x="760.3" y="280.9"/><use href="#star" x="762.7" y="280.9"/><use href="#star" x="765.1" y="280.9"/><use href="#star" x="767.6" y="280.9"/><use href="#star" x="770.0" y="280.9"/><use href="#star" x="771.9" y="331.6"/><use href="#star" x="774.4" y="331.6"/><use href="#star" x="776.8" y="331.6"/><use href="#star" x="779.3" y="331.6"/><use href="#star" x="781.7" y="331.6"/><use href="#star" x="784.2" y="331.6"/><use href="#star" x="786.1" y="291.4"/><use href="#star" x="788.5" y="291.4"/><use href="#star" x="790.9" y="291.4"/><use href="#star" x="793.3" y="291.4"/><use href="#star" x="795.8" y="291.4"/><use href="#star" x="798.2" y="291.4"/><use href="#star" x="800.6" y="291.4"/><use href="#star" x="802.2" y="305.9"/><use href="#star" x="804.6" y="305.9"/><use href="#star" x="807.0" y="305.9"/><use href="#star" x="809.5" y="305.9"/><use href="#star" x="809.9" y="322.1"/><use href="#star" x="811.9" y="305.9"/><use href="#star" x="812.7" y="322.1"/><use href="#star" x="814.3" y="305.9"/><use href="#star" x="815.4" y="322.1"/><use href="#star" x="816.7" y="305.9"/><use href="#star" x="819.1" y="294.6"/><use href="#star" x="821.5" y="299.4"/><use href="#star" x="824.1" y="299.4"/><use href="#star" x="826.6" y="299.4"/><use href="#star" x="829.1" y="299.4"/><use href="#star" x="831.7" y="299.4"/><use href="#star" x="834.2" y="299.4"/><use href="#star" x="836.7" y="299.4"/><use href="#star" x="839.3" y="299.4"/><use href="#star" x="839.3" y="296.6"/><use href="#star" x="840.4" y="278.9"/><use href="#star" x="841.7" y="296.6"/><use href="#star" x="843.6" y="269.2"/><use href="#star" x="844.1" y="296.6"/><use href="#star" x="846.5" y="296.6"/><use href="#star" x="846.8" y="257.9"/><use href="#star" x="848.9" y="296.6"/><use href="#star" x="861.8" y="252.7"/><use href="#star" x="865.4" y="309.5"/><use href="#star" x="879.5" y="295.0"/><use href="#star" x="882.2" y="295.0"/><use href="#star" x="884.9" y="295.0"/><use href="#star" x="885.0" y="291.8"/><use href="#star" x="887.4" y="291.8"/><use href="#star" x="887.6" y="295.0"/><use href="#star" x="887.6" y="258.3"/><use href="#star" x="888.2" y="258.3"/><use href="#star" x="889.8" y="291.8"/><use href="#star" x="890.0" y="258.3"/><use href="#star" x="890.3" y="295.0"/><use href="#star" x="891.4" y="258.3"/><use href="#star" x="892.3" y="291.8"/><use href="#star" x="892.4" y="258.3"/><use href="#star" x="893.0" y="295.0"/><use href="#star" x="894.7" y="258.3"/><use href="#star" x="894.7" y="291.8"/><use href="#star" x="894.9" y="258.3"/><use href="#star" x="895.7" y="295.0"/><use href="#star" x="897.3" y="258.3"/><use href="#star" x="908.2" y="244.6"/><use href="#star" x="912.1" y="278.9"/><use href="#star" x="914.5" y="272.4"/><use href="#star" x="916.9" y="266.0"/><use href="#star" x="920.1" y="257.9"/><use href="#star" x="923.4" y="249.0"/><use href="#star" x="927.2" y="301.4"/><use href="#star" x="939.8" y="301.4"/><use href="#star" x="940.6" y="286.5"/><use href="#star" x="942.5" y="300.2"/><use href="#star" x="943.1" y="286.5"/><use href="#star" x="945.3" y="298.9"/><use href="#star" x="945.7" y="286.5"/><use href="#star" x="948.1" y="297.6"/><use href="#star" x="948.2" y="286.5"/><use href="#star" x="950.8" y="286.5"/><use href="#star" x="950.8" y="296.4"/><use href="#star" x="953.3" y="286.5"/><use href="#star" x="953.6" y="295.1"/><use href="#star" x="955.9" y="286.5"/><use href="#star" x="956.4" y="293.8"/><use href="#star" x="959.1" y="292.6"/><use href="#star" x="960.7" y="293.4"/><use href="#star" x="962.3" y="296.2"/><use href="#star" x="963.4" y="293.4"/><use href="#star" x="964.9" y="295.3"/><use href="#star" x="966.0" y="293.4"/><use href="#star" x="967.5" y="294.5"/><use href="#star" x="968.6" y="293.4"/><use href="#star" x="970.1" y="293.6"/><use href="#star" x="971.3" y="293.4"/><use href="#star" x="972.7" y="292.8"/><use href="#star" x="973.9" y="293.4"/><use href="#star" x="975.2" y="291.9"/><use href="#star" x="976.6" y="293.4"/><use href="#star" x="977.8" y="291.0"/><use href="#star" x="979.2" y="293.4"/><use href="#star" x="980.4" y="290.2"/><use href="#star" x="981.8" y="293.4"/><use href="#star" x="983.0" y="289.3"/><use href="#star" x="984.5" y="293.4"/><use href="#star" x="985.5" y="288.5"/><use href="#star" x="987.1" y="293.4"/><use href="#star" x="988.1" y="287.6"/><use href="#star" x="989.7" y="293.4"/><use href="#star" x="990.7" y="286.7"/><use href="#star" x="992.2" y="297.4"/><use href="#star" x="993.3" y="285.9"/><use href="#star" x="994.8" y="297.4"/><use href="#star" x="995.9" y="285.0"/><use href="#star" x="997.5" y="297.4"/><use href="#star" x="998.4" y="284.2"/><use href="#star" x="1000.2" y="297.4"/><use href="#star" x="1001.0" y="283.3"/><use href="#star" x="1002.8" y="297.4"/><use href="#star" x="1005.5" y="297.4"/><use href="#star" x="1008.1" y="297.4"/><use href="#star" x="1010.8" y="297.4"/><use href="#star" x="1013.5" y="297.4"/><use href="#star" x="1016.1" y="297.4"/><use href="#star" x="1018.8" y="297.4"/><use href="#star" x="1020.4" y="275.2"/><use href="#star" x="1021.5" y="297.4"/><use href="#star" x="1023.6" y="278.0"/><use href="#star" x="1024.1" y="297.4"/><use href="#star" x="1026.4" y="280.5"/><use href="#star" x="1026.8" y="297.4"/><use href="#star" x="1029.3" y="282.9"/><use href="#star" x="1032.1" y="285.3"/><use href="#star" x="1035.7" y="328.4"/><use href="#star" x="1036.1" y="325.6"/><use href="#star" x="1038.5" y="327.9"/><use href="#star" x="1040.9" y="330.1"/><use href="#star" x="1043.3" y="332.4"/><use href="#star" x="1045.7" y="334.6"/><use href="#star" x="1048.1" y="336.9"/><use href="#star" x="1051.0" y="328.4"/><use href="#star" x="1063.9" y="336.9"/><use href="#star" x="1066.8" y="290.9"/><use href="#star" x="1068.7" y="293.8"/><use href="#star" x="1071.4" y="295.4"/><use href="#star" x="1074.1" y="297.0"/><use href="#star" x="1076.8" y="298.6"/><use href="#star" x="1079.4" y="300.2"/><use href="#star" x="1082.1" y="301.8"/><use href="#star" x="1084.8" y="303.4"/><use href="#star" x="1086.4" y="309.5"/><use href="#star" x="1087.5" y="305.1"/><use href="#star" x="1089.1" y="309.7"/><use href="#star" x="1090.2" y="306.7"/><use href="#star" x="1091.8" y="309.9"/><use href="#star" x="1092.9" y="308.3"/><use href="#star" x="1094.5" y="310.0"/><use href="#star" x="1097.2" y="310.2"/><use href="#star" x="1097.4" y="304.3"/><use href="#star" x="1099.8" y="310.4"/><use href="#star" x="1102.5" y="310.6"/><use href="#star" x="1105.2" y="310.7"/><use href="#star" x="1107.9" y="310.9"/><use href="#star" x="1110.6" y="311.1"/><use href="#star" x="1113.0" y="293.0"/><use href="#star" x="1123.3" y="309.5"/><use href="#star" x="1125.8" y="312.9"/><use href="#star" x="1128.3" y="316.4"/><use href="#star" x="1130.8" y="319.9"/><use href="#star" x="1133.4" y="323.3"/><use href="#star" x="1135.9" y="326.8"/><use href="#star" x="1138.4" y="330.2"/><use href="#star" x="1140.9" y="333.7"/><use href="#star" x="1144.1" y="300.7"/><use href="#star" x="1144.1" y="300.8"/><use href="#star" x="1146.8" y="303.9"/><use href="#star" x="1149.6" y="307.0"/><use href="#star" x="1152.3" y="310.1"/><use href="#star" x="1155.1" y="313.2"/><use href="#star" x="1157.8" y="316.3"/><use href="#star" x="1160.5" y="319.4"/><use href="#star" x="1163.3" y="322.5"/><use href="#star" x="1166.0" y="325.6"/><use href="#star" x="1166.0" y="325.6"/><use href="#star" x="1168.7" y="331.2"/><use href="#star" x="1171.5" y="336.9"/><use href="#star" x="1174.2" y="342.5"/><use href="#star" x="1176.9" y="348.1"/><use href="#star" x="1179.6" y="353.8"/><use href="#star" x="1182.3" y="359.4"/><use href="#star" x="1185.1" y="365.1"/><use href="#star" x="1187.8" y="370.7"/><use href="#star" x="1190.7" y="305.0"/><use href="#star" x="1203.1" y="331.2"/><use href="#star" x="1203.2" y="331.2"/><use href="#star" x="1204.7" y="296.6"/><use href="#star" x="1204.7" y="325.6"/><use href="#star" x="1206.5" y="285.0"/><use href="#star" x="1207.2" y="325.4"/><use href="#star" x="1207.4" y="296.8"/><use href="#star" x="1209.8" y="325.2"/><use href="#star" x="1210.0" y="297.1"/><use href="#star" x="1212.3" y="325.0"/><use href="#star" x="1212.7" y="297.4"/><use href="#star" x="1214.9" y="324.8"/><use href="#star" x="1215.4" y="297.7"/><use href="#star" x="1217.5" y="324.7"/><use href="#star" x="1218.1" y="297.9"/><use href="#star" x="1220.0" y="324.5"/><use href="#star" x="1220.8" y="298.2"/><use href="#star" x="1221.5" y="280.1"/><use href="#star" x="1222.6" y="324.3"/><use href="#star" x="1223.5" y="298.5"/><use href="#star" x="1224.5" y="289.3"/><use href="#star" x="1225.1" y="324.1"/><use href="#star" x="1226.2" y="298.7"/><use href="#star" x="1227.7" y="323.9"/><use href="#star" x="1228.8" y="299.0"/><use href="#star" x="1230.3" y="323.7"/><use href="#star" x="1231.5" y="299.3"/><use href="#star" x="1232.8" y="323.5"/><use href="#star" x="1234.2" y="299.5"/><use href="#star" x="1235.4" y="323.3"/><use href="#star" x="1236.9" y="299.8"/><use href="#star" x="1237.4" y="296.6"/><use href="#star" x="1237.4" y="296.6"/><use href="#star" x="1237.9" y="323.1"/><use href="#star" x="1239.9" y="301.5"/><use href="#star" x="1240.5" y="323.0"/><use href="#star" x="1242.5" y="306.5"/><use href="#star" x="1243.1" y="322.8"/><use href="#star" x="1245.0" y="311.4"/><use href="#star" x="1245.6" y="322.6"/><use href="#star" x="1247.6" y="316.4"/><use href="#star" x="1248.2" y="322.4"/><use href="#star" x="1250.1" y="321.3"/><use href="#star" x="1250.3" y="332.1"/><use href="#star" x="1252.7" y="326.3"/><use href="#star" x="1255.2" y="331.2"/><use href="#star" x="1257.8" y="336.2"/><use href="#star" x="1260.3" y="341.1"/><use href="#star" x="1261.5" y="340.9"/><use href="#star" x="1262.9" y="346.1"/><use href="#star" x="1265.4" y="351.0"/><use href="#star" x="1265.4" y="351.1"/><use href="#star" x="1268.3" y="306.7"/><use href="#star" x="1279.9" y="341.7"/><use href="#star" x="1279.9" y="341.7"/><use href="#star" x="1282.5" y="339.1"/><use href="#star" x="1283.6" y="267.2"/><use href="#star" x="1285.2" y="336.4"/><use href="#star" x="1286.8" y="275.6"/><use href="#star" x="1287.8" y="333.8"/><use href="#star" x="1290.4" y="331.1"/><use href="#star" x="1293.0" y="328.5"/><use href="#star" x="1295.7" y="325.8"/><use href="#star" x="1298.3" y="323.2"/><use href="#star" x="1298.3" y="323.2"/><use href="#star" x="1300.9" y="320.1"/><use href="#star" x="1303.4" y="317.1"/><use href="#star" x="1306.0" y="314.0"/><use href="#star" x="1306.2" y="290.6"/><use href="#star" x="1308.6" y="310.9"/><use href="#star" x="1308.8" y="288.6"/><use href="#star" x="1311.2" y="307.9"/><use href="#star" x="1311.4" y="286.7"/><use href="#star" x="1314.0" y="284.8"/><use href="#star" x="1316.7" y="282.9"/><use href="#star" x="1319.3" y="281.0"/><use href="#star" x="1321.9" y="279.1"/><use href="#star" x="1324.5" y="277.2"/><use href="#star" x="1327.1" y="275.2"/><use href="#star" x="1342.4" y="287.3"/><use href="#star" x="1346.1" y="297.4"/><use href="#star" x="1348.8" y="297.4"/><use href="#star" x="1351.4" y="297.4"/><use href="#star" x="1354.0" y="297.4"/><use href="#star" x="1356.6" y="297.4"/><use href="#star" x="1357.7" y="288.9"/><use href="#star" x="1359.2" y="297.4"/><use href="#star" x="1361.8" y="297.4"/><use href="#star" x="1362.6" y="297.0"/><use href="#star" x="1364.4" y="297.4"/><use href="#star" x="1365.2" y="295.5"/><use href="#star" x="1367.0" y="297.4"/><use href="#star" x="1367.9" y="293.9"/><use href="#star" x="1369.6" y="297.4"/><use href="#star" x="1370.6" y="292.4"/><use href="#star" x="1372.3" y="297.4"/><use href="#star" x="1372.3" y="291.8"/><use href="#star" x="1373.2" y="290.9"/><use href="#star" x="1375.1" y="291.2"/><use href="#star" x="1375.9" y="289.3"/><use href="#star" x="1377.9" y="290.6"/><use href="#star" x="1378.5" y="287.8"/><use href="#star" x="1380.7" y="290.0"/><use href="#star" x="1381.2" y="286.3"/><use href="#star" x="1383.5" y="289.3"/><use href="#star" x="1383.9" y="284.8"/><use href="#star" x="1386.5" y="283.2"/><use href="#star" x="1389.2" y="281.7"/><use href="#star" x="1390.8" y="283.7"/><use href="#star" x="1393.5" y="287.7"/><use href="#star" x="1396.3" y="291.8"/><use href="#star" x="1396.3" y="291.8"/><use href="#star" x="1398.9" y="296.0"/><use href="#star" x="1401.5" y="300.2"/><use href="#star" x="1404.1" y="304.4"/><use href="#star" x="1406.7" y="308.6"/><use href="#star" x="1409.3" y="312.8"/><use href="#star" x="1411.9" y="317.0"/><use href="#star" x="1414.6" y="321.2"/><use href="#star" x="1417.2" y="325.4"/><use href="#star" x="1419.8" y="329.6"/><use href="#star" x="1419.8" y="329.6"/><use href="#star" x="1420.6" y="327.2"/><use href="#star" x="1423.0" y="305.1"/><use href="#star" x="1423.1" y="327.2"/><use href="#star" x="1425.7" y="327.2"/><use href="#star" x="1428.2" y="327.2"/><use href="#star" x="1430.8" y="327.2"/><use href="#star" x="1433.3" y="327.2"/><use href="#star" x="1435.9" y="327.2"/><use href="#star" x="1438.5" y="327.2"/><use href="#star" x="1438.8" y="308.8"/><use href="#star" x="1441.0" y="327.2"/><use href="#star" x="1443.6" y="327.2"/><use href="#star" x="1446.1" y="327.2"/><use href="#star" x="1448.7" y="327.2"/><use href="#star" x="1450.4" y="308.3"/><use href="#star" x="1451.2" y="331.2"/><use href="#star" x="1451.2" y="327.2"/><use href="#star" x="1453.0" y="308.3"/><use href="#star" x="1455.7" y="308.3"/><use href="#star" x="1458.3" y="308.3"/><use href="#star" x="1461.0" y="308.3"/><use href="#star" x="1463.6" y="308.3"/><use href="#star" x="1466.2" y="308.3"/><use href="#star" x="1467.3" y="324.8"/><use href="#star" x="1468.9" y="308.3"/><use href="#star" x="1469.7" y="286.0"/><use href="#star" x="1470.0" y="324.8"/><use href="#star" x="1471.5" y="308.3"/><use href="#star" x="1472.6" y="324.8"/><use href="#star" x="1474.2" y="308.3"/><use href="#star" x="1475.2" y="324.8"/><use href="#star" x="1476.8" y="308.3"/><use href="#star" x="1477.9" y="324.8"/><use href="#star" x="1479.5" y="308.3"/><use href="#star" x="1480.5" y="324.8"/><use href="#star" x="1482.1" y="308.3"/><use href="#star" x="1483.1" y="324.8"/><use href="#star" x="1484.7" y="308.3"/><use href="#star" x="1485.8" y="324.8"/><use href="#star" x="1487.4" y="308.3"/><use href="#star" x="1488.4" y="324.8"/><use href="#star" x="1490.0" y="308.3"/><use href="#star" x="1491.1" y="324.8"/><use href="#star" x="1492.7" y="308.3"/><use href="#star" x="1493.7" y="324.8"/><use href="#star" x="1495.3" y="308.3"/><use href="#star" x="1496.3" y="324.8"/><use href="#star" x="1497.9" y="308.3"/><use href="#star" x="1500.7" y="283.3"/><use href="#star" x="1503.1" y="283.3"/><use href="#star" x="1505.4" y="283.3"/><use href="#star" x="1507.8" y="283.3"/><use href="#star" x="1508.2" y="323.7"/><use href="#star" x="1509.2" y="312.7"/><use href="#star" x="1510.2" y="283.3"/><use href="#star" x="1510.9" y="323.7"/><use href="#star" x="1511.8" y="312.7"/><use href="#star" x="1512.6" y="283.3"/><use href="#star" x="1513.6" y="323.7"/><use href="#star" x="1514.4" y="312.7"/><use href="#star" x="1516.3" y="323.7"/><use href="#star" x="1517.0" y="312.7"/><use href="#star" x="1519.0" y="323.7"/><use href="#star" x="1519.5" y="312.7"/><use href="#star" x="1521.7" y="323.7"/><use href="#star" x="1522.1" y="312.7"/><use href="#star" x="1523.7" y="321.6"/><use href="#star" x="1524.3" y="323.7"/><use href="#star" x="1526.5" y="321.6"/><use href="#star" x="1527.0" y="323.7"/><use href="#star" x="1529.4" y="321.6"/><use href="#star" x="1529.7" y="323.7"/><use href="#star" x="1532.2" y="321.6"/><use href="#star" x="1532.4" y="323.7"/><use href="#star" x="1535.0" y="321.6"/><use href="#star" x="1544.5" y="323.7"/><use href="#star" x="1562.2" y="292.7"/><use href="#star" x="1564.6" y="292.7"/><use href="#star" x="1567.0" y="292.7"/><use href="#star" x="1569.5" y="292.7"/><use href="#star" x="1571.5" y="300.3"/><use href="#star" x="1571.9" y="292.7"/><use href="#star" x="1574.3" y="292.7"/><use href="#star" x="1574.8" y="294.3"/><use href="#star" x="1578.0" y="288.2"/><use href="#star" x="1578.3" y="288.3"/><use href="#star" x="1580.7" y="320.5"/><use href="#star" x="1583.2" y="321.1"/><use href="#star" x="1585.7" y="321.6"/><use href="#star" x="1588.2" y="322.2"/><use href="#star" x="1588.3" y="325.3"/><use href="#star" x="1590.7" y="322.8"/><use href="#star" x="1590.7" y="341.4"/><use href="#star" x="1590.7" y="341.4"/><use href="#star" x="1593.2" y="323.4"/><use href="#star" x="1593.3" y="345.9"/><use href="#star" x="1595.7" y="324.0"/><use href="#star" x="1595.9" y="350.4"/><use href="#star" x="1598.2" y="324.6"/><use href="#star" x="1598.5" y="354.9"/><use href="#star" x="1600.7" y="325.2"/><use href="#star" x="1601.0" y="359.5"/><use href="#star" x="1603.1" y="325.7"/><use href="#star" x="1603.6" y="364.0"/><use href="#star" x="1603.6" y="364.0"/><use href="#star" x="1605.6" y="326.3"/><use href="#star" x="1606.0" y="377.7"/><use href="#star" x="1606.0" y="377.7"/><use href="#star" x="1608.1" y="326.9"/><use href="#star" x="1608.6" y="378.9"/><use href="#star" x="1609.4" y="304.0"/><use href="#star" x="1611.2" y="380.2"/><use href="#star" x="1613.8" y="381.5"/><use href="#star" x="1614.6" y="339.8"/><use href="#star" x="1616.2" y="376.9"/><use href="#star" x="1616.5" y="382.8"/><use href="#star" x="1617.2" y="340.3"/><use href="#star" x="1618.9" y="378.5"/><use href="#star" x="1619.1" y="384.0"/><use href="#star" x="1619.7" y="340.8"/><use href="#star" x="1621.6" y="380.1"/><use href="#star" x="1621.7" y="385.3"/><use href="#star" x="1622.3" y="341.3"/><use href="#star" x="1624.2" y="381.7"/><use href="#star" x="1624.3" y="386.6"/><use href="#star" x="1624.9" y="341.7"/><use href="#star" x="1626.9" y="387.9"/><use href="#star" x="1626.9" y="383.3"/><use href="#star" x="1627.5" y="342.2"/><use href="#star" x="1629.5" y="389.2"/><use href="#star" x="1629.6" y="384.9"/><use href="#star" x="1630.0" y="342.7"/><use href="#star" x="1632.1" y="390.4"/><use href="#star" x="1632.3" y="386.6"/><use href="#star" x="1632.6" y="343.2"/><use href="#star" x="1634.7" y="391.7"/><use href="#star" x="1635.2" y="343.7"/><use href="#star" x="1637.3" y="393.0"/><use href="#star" x="1637.3" y="393.0"/><use href="#star" x="1637.8" y="344.2"/><use href="#star" x="1640.4" y="311.2"/><use href="#star" x="1640.4" y="344.6"/><use href="#star" x="1642.9" y="345.1"/><use href="#star" x="1645.5" y="345.6"/><use href="#star" x="1648.1" y="346.1"/><use href="#star" x="1650.7" y="346.6"/><use href="#star" x="1653.2" y="347.1"/><use href="#star" x="1654.9" y="373.6"/><use href="#star" x="1655.7" y="316.1"/><use href="#star" x="1655.8" y="347.5"/><use href="#star" x="1657.5" y="372.7"/><use href="#star" x="1658.4" y="348.0"/><use href="#star" x="1660.2" y="371.7"/><use href="#star" x="1661.0" y="348.5"/><use href="#star" x="1662.9" y="370.7"/><use href="#star" x="1663.6" y="349.0"/><use href="#star" x="1664.7" y="355.9"/><use href="#star" x="1665.6" y="369.8"/><use href="#star" x="1666.1" y="349.5"/><use href="#star" x="1668.2" y="368.8"/><use href="#star" x="1668.2" y="368.8"/><use href="#star" x="1677.7" y="302.7"/><use href="#star" x="1681.0" y="298.7"/><use href="#star" x="1684.2" y="293.9"/><use href="#star" x="1686.3" y="322.1"/><use href="#star" x="1689.0" y="317.9"/><use href="#star" x="1691.8" y="313.6"/><use href="#star" x="1694.5" y="309.4"/><use href="#star" x="1697.2" y="305.2"/><use href="#star" x="1700.0" y="300.9"/><use href="#star" x="1702.7" y="296.7"/><use href="#star" x="1705.5" y="292.5"/><use href="#star" x="1708.2" y="288.3"/><use href="#star" x="1711.6" y="285.0"/><use href="#star" x="1714.8" y="281.0"/><use href="#star" x="1724.5" y="275.3"/><use href="#star" x="1726.9" y="271.3"/><use href="#star" x="1730.1" y="267.3"/><use href="#star" x="1738.6" y="289.9"/><use href="#star" x="1741.2" y="291.8"/><use href="#star" x="1743.8" y="293.7"/><use href="#star" x="1746.4" y="295.7"/><use href="#star" x="1748.6" y="285.0"/><use href="#star" x="1749.0" y="297.6"/><use href="#star" x="1751.2" y="280.4"/><use href="#star" x="1751.5" y="299.5"/><use href="#star" x="1753.7" y="275.9"/><use href="#star" x="1756.2" y="271.3"/><use href="#star" x="1758.7" y="266.7"/><use href="#star" x="1761.2" y="262.1"/><use href="#star" x="1764.3" y="299.5"/><use href="#star" x="1766.8" y="306.8"/><use href="#star" x="1769.4" y="314.0"/><use href="#star" x="1772.0" y="321.3"/><use href="#star" x="1774.6" y="328.5"/><use href="#star" x="1777.2" y="335.8"/><use href="#star" x="1778.9" y="338.2"/><use href="#star" x="1778.9" y="314.0"/><use href="#star" x="1781.5" y="314.2"/><use href="#star" x="1781.5" y="337.5"/><use href="#star" x="1784.0" y="314.4"/><use href="#star" x="1784.1" y="336.8"/><use href="#star" x="1786.6" y="314.5"/><use href="#star" x="1786.7" y="336.1"/><use href="#star" x="1789.1" y="314.7"/><use href="#star" x="1789.3" y="335.3"/><use href="#star" x="1791.7" y="314.9"/><use href="#star" x="1791.9" y="334.6"/><use href="#star" x="1792.5" y="339.0"/><use href="#star" x="1794.2" y="315.0"/><use href="#star" x="1794.5" y="333.9"/><use href="#star" x="1796.2" y="297.9"/><use href="#star" x="1796.7" y="315.2"/><use href="#star" x="1797.1" y="333.2"/><use href="#star" x="1799.3" y="315.4"/><use href="#star" x="1799.7" y="332.5"/><use href="#star" x="1801.8" y="315.5"/><use href="#star" x="1802.3" y="331.8"/><use href="#star" x="1804.4" y="315.7"/><use href="#star" x="1804.9" y="331.1"/><use href="#star" x="1806.9" y="315.9"/><use href="#star" x="1807.5" y="330.3"/><use href="#star" x="1809.5" y="316.1"/><use href="#star" x="1810.1" y="329.6"/><use href="#star" x="1810.7" y="281.1"/><use href="#star" x="1812.0" y="316.2"/><use href="#star" x="1812.7" y="328.9"/><use href="#star" x="1813.3" y="288.2"/><use href="#star" x="1814.6" y="316.4"/><use href="#star" x="1815.3" y="328.2"/><use href="#star" x="1817.1" y="316.6"/><use href="#star" x="1817.9" y="327.5"/><use href="#star" x="1818.2" y="309.5"/><use href="#star" x="1819.6" y="316.7"/><use href="#star" x="1820.5" y="326.8"/><use href="#star" x="1820.8" y="313.5"/><use href="#star" x="1822.2" y="316.9"/><use href="#star" x="1823.1" y="326.0"/><use href="#star" x="1823.5" y="317.5"/><use href="#star" x="1824.7" y="317.1"/><use href="#star" x="1825.7" y="325.3"/><use href="#star" x="1826.1" y="321.6"/><use href="#star" x="1827.1" y="325.3"/><use href="#star" x="1827.3" y="317.2"/><use href="#star" x="1828.7" y="325.6"/><use href="#star" x="1829.5" y="331.8"/><use href="#star" x="1831.3" y="329.6"/><use href="#star" x="1831.9" y="338.2"/><use href="#star" x="1833.9" y="333.6"/><use href="#star" x="1834.4" y="344.7"/><use href="#star" x="1835.6" y="352.2"/><use href="#star" x="1836.6" y="337.7"/><use href="#star" x="1836.8" y="351.1"/><use href="#star" x="1838.5" y="357.8"/><use href="#star" x="1839.2" y="341.7"/><use href="#star" x="1839.2" y="357.5"/><use href="#star" x="1841.8" y="301.6"/><use href="#star" x="1842.4" y="328.8"/><use href="#star" x="1844.9" y="329.7"/><use href="#star" x="1847.2" y="309.5"/><use href="#star" x="1847.4" y="330.6"/><use href="#star" x="1849.8" y="309.8"/><use href="#star" x="1849.9" y="331.4"/><use href="#star" x="1852.4" y="332.3"/><use href="#star" x="1852.4" y="310.1"/><use href="#star" x="1854.8" y="333.2"/><use href="#star" x="1855.0" y="310.4"/><use href="#star" x="1857.3" y="334.1"/><use href="#star" x="1857.5" y="310.8"/><use href="#star" x="1859.8" y="335.0"/><use href="#star" x="1860.1" y="311.1"/><use href="#star" x="1862.3" y="335.8"/><use href="#star" x="1862.7" y="311.4"/><use href="#star" x="1864.8" y="336.7"/><use href="#star" x="1865.3" y="311.7"/><use href="#star" x="1866.1" y="282.1"/><use href="#star" x="1867.3" y="337.6"/><use href="#star" x="1867.9" y="312.0"/><use href="#star" x="1869.3" y="278.0"/><use href="#star" x="1869.8" y="338.5"/><use href="#star" x="1869.8" y="293.4"/><use href="#star" x="1870.4" y="312.4"/><use href="#star" x="1872.3" y="292.8"/><use href="#star" x="1872.5" y="340.9"/><use href="#star" x="1873.0" y="312.7"/><use href="#star" x="1874.9" y="292.3"/><use href="#star" x="1875.1" y="338.0"/><use href="#star" x="1877.4" y="291.7"/><use href="#star" x="1877.7" y="335.0"/><use href="#star" x="1880.0" y="291.2"/><use href="#star" x="1880.4" y="332.1"/><use href="#star" x="1882.5" y="290.7"/><use href="#star" x="1883.0" y="329.2"/><use href="#star" x="1885.1" y="290.1"/><use href="#star" x="1885.6" y="326.3"/><use href="#star" x="1887.6" y="289.6"/><use href="#star" x="1889.1" y="296.6"/><use href="#star" x="1890.2" y="289.1"/><use href="#star" x="1891.8" y="296.6"/><use href="#star" x="1892.7" y="288.5"/><use href="#star" x="1894.5" y="296.6"/><use href="#star" x="1895.3" y="288.0"/><use href="#star" x="1897.2" y="296.6"/><use href="#star" x="1897.5" y="270.8"/><use href="#star" x="1897.9" y="287.4"/><use href="#star" x="1899.9" y="296.6"/><use href="#star" x="1899.9" y="267.1"/><use href="#star" x="1900.4" y="286.9"/><use href="#star" x="1902.6" y="296.6"/><use href="#star" x="1903.0" y="286.4"/><use href="#star" x="1903.6" y="296.6"/><use href="#star" x="1905.2" y="296.6"/><use href="#star" x="1905.2" y="296.6"/><use href="#star" x="1905.5" y="285.8"/><use href="#star" x="1907.7" y="297.1"/><use href="#star" x="1908.1" y="285.3"/><use href="#star" x="1910.3" y="297.7"/><use href="#star" x="1910.6" y="284.8"/><use href="#star" x="1912.8" y="298.2"/><use href="#star" x="1913.2" y="284.2"/><use href="#star" x="1915.3" y="298.7"/><use href="#star" x="1915.7" y="283.7"/><use href="#star" x="1917.8" y="299.3"/><use href="#star" x="1918.3" y="283.2"/><use href="#star" x="1920.3" y="299.8"/><use href="#star" x="1920.8" y="282.6"/><use href="#star" x="1922.8" y="300.4"/><use href="#star" x="1923.4" y="282.1"/><use href="#star" x="1925.3" y="300.9"/><use href="#star" x="1925.9" y="281.5"/><use href="#star" x="1927.8" y="301.4"/><use href="#star" x="1927.8" y="302.7"/><use href="#star" x="1928.5" y="281.0"/><use href="#star" x="1928.6" y="258.7"/><use href="#star" x="1930.2" y="302.7"/><use href="#star" x="1931.0" y="280.5"/><use href="#star" x="1931.3" y="255.0"/><use href="#star" x="1932.6" y="302.7"/><use href="#star" x="1934.7" y="302.7"/><use href="#star" x="1935.0" y="302.7"/><use href="#star" x="1937.5" y="302.7"/><use href="#star" x="1937.5" y="301.4"/><use href="#star" x="1940.0" y="301.1"/><use href="#star" x="1942.4" y="300.8"/><use href="#star" x="1944.9" y="300.6"/><use href="#star" x="1947.4" y="300.3"/><use href="#star" x="1949.9" y="300.0"/><use href="#star" x="1950.5" y="285.0"/><use href="#star" x="1952.4" y="299.7"/><use href="#star" x="1954.1" y="289.3"/><use href="#star" x="1954.9" y="299.4"/><use href="#star" x="1957.3" y="293.4"/><use href="#star" x="1957.4" y="299.1"/><use href="#star" x="1959.9" y="298.8"/><use href="#star" x="1962.0" y="298.2"/><use href="#star" x="1962.1" y="299.0"/><use href="#star" x="1962.4" y="298.5"/><use href="#star" x="1964.9" y="298.2"/><use href="#star" x="1966.1" y="335.3"/><use href="#star" x="1966.8" y="337.2"/><use href="#star" x="1968.6" y="338.2"/><use href="#star" x="1971.1" y="341.1"/><use href="#star" x="1973.6" y="344.0"/><use href="#star" x="1976.1" y="346.9"/><use href="#star" x="1978.6" y="349.8"/><use href="#star" x="1992.3" y="319.1"/><use href="#star" x="1993.4" y="339.3"/><use href="#star" x="1994.8" y="319.3"/><use href="#star" x="1997.1" y="305.9"/><use href="#star" x="1997.4" y="319.4"/><use href="#star" x="2000.0" y="319.5"/><use href="#star" x="2002.6" y="319.7"/><use href="#star" x="2005.1" y="319.8"/><use href="#star" x="2007.7" y="319.9"/><use href="#star" x="2008.4" y="324.0"/><use href="#star" x="2010.3" y="320.0"/><use href="#star" x="2010.9" y="323.5"/><use href="#star" x="2012.4" y="311.5"/><use href="#star" x="2012.9" y="320.2"/><use href="#star" x="2013.4" y="322.9"/><use href="#star" x="2015.5" y="320.3"/><use href="#star" x="2015.9" y="322.4"/><use href="#star" x="2018.0" y="320.4"/><use href="#star" x="2018.4" y="321.8"/><use href="#star" x="2020.6" y="320.6"/><use href="#star" x="2020.9" y="321.3"/><use href="#star" x="2023.2" y="320.7"/><use href="#star" x="2023.4" y="320.8"/><use href="#star" x="2025.8" y="320.8"/><use href="#star" x="2025.9" y="320.2"/><use href="#star" x="2027.7" y="301.8"/><use href="#star" x="2028.3" y="320.9"/><use href="#star" x="2028.4" y="319.7"/><use href="#star" x="2030.9" y="321.1"/><use href="#star" x="2030.9" y="319.2"/><use href="#star" x="2033.5" y="321.2"/><use href="#star" x="2036.1" y="321.3"/><use href="#star" x="2038.7" y="321.5"/><use href="#star" x="2041.2" y="321.6"/><use href="#star" x="2043.8" y="321.7"/><use href="#star" x="2044.3" y="330.4"/><use href="#star" x="2046.4" y="321.8"/><use href="#star" x="2047.2" y="333.9"/><use href="#star" x="2049.0" y="322.0"/><use href="#star" x="2050.0" y="337.3"/><use href="#star" x="2051.5" y="322.1"/><use href="#star" x="2052.9" y="340.7"/><use href="#star" x="2054.1" y="322.2"/><use href="#star" x="2055.7" y="344.1"/><use href="#star" x="2056.7" y="322.4"/><use href="#star" x="2058.3" y="299.4"/><use href="#star" x="2058.6" y="297.9"/><use href="#star" x="2061.2" y="300.2"/><use href="#star" x="2063.8" y="302.5"/><use href="#star" x="2066.4" y="304.8"/><use href="#star" x="2069.0" y="307.2"/><use href="#star" x="2071.5" y="309.5"/><use href="#star" x="2072.8" y="322.4"/><use href="#star" x="2072.8" y="322.4"/><use href="#star" x="2075.2" y="323.2"/><use href="#star" x="2075.5" y="322.6"/><use href="#star" x="2077.7" y="324.0"/><use href="#star" x="2078.2" y="322.8"/><use href="#star" x="2080.1" y="324.8"/><use href="#star" x="2080.9" y="323.0"/><use href="#star" x="2082.5" y="325.6"/><use href="#star" x="2083.6" y="323.2"/><use href="#star" x="2084.9" y="326.4"/><use href="#star" x="2086.2" y="323.4"/><use href="#star" x="2087.3" y="327.2"/><use href="#star" x="2088.9" y="323.7"/><use href="#star" x="2091.6" y="323.9"/><use href="#star" x="2094.3" y="324.1"/><use href="#star" x="2097.0" y="324.3"/><use href="#star" x="2099.7" y="324.5"/><use href="#star" x="2102.4" y="324.7"/><use href="#star" x="2102.5" y="332.9"/><use href="#star" x="2105.0" y="324.9"/><use href="#star" x="2105.4" y="299.0"/><use href="#star" x="2107.7" y="325.2"/><use href="#star" x="2110.4" y="325.4"/><use href="#star" x="2112.8" y="307.9"/><use href="#star" x="2113.1" y="325.6"/><use href="#star" x="2116.8" y="312.4"/><use href="#star" x="2120.5" y="270.6"/><use href="#star" x="2123.7" y="273.7"/><use href="#star" x="2126.5" y="277.9"/><use href="#star" x="2130.7" y="280.6"/><use href="#star" x="2133.6" y="283.9"/></g></g>
<g font-size="71.2" text-anchor="middle">
<text x="275.90" y="1715">0</text>
<text x="586.07" y="1715">1000</text>
<text x="896.23" y="1715">2000</text>
<text x="1206.40" y="1715">3000</text>
<text x="1516.57" y="1715">4000</text>
<text x="1826.73" y="1715">5000</text>
<text x="2136.90" y="1715">6000</text>
</g>
<g font-size="71.2" text-anchor="end">
<text x="256" y="1652.70">0</text>
<text x="256" y="1480.48">0.2</text>
<text x="256" y="1308.26">0.4</text>
<text x="256" y="1136.03">0.6</text>
<text x="256" y="963.81">0.8</text>
<text x="256" y="791.59">1</text>
<text x="256" y="619.37">1.2</text>
<text x="256" y="447.14">1.4</text>
<text x="256" y="274.92">1.6</text>
<text x="256" y="102.70">1.8</text>
</g>
<text x="1207.5" y="1810" font-size="79.1" text-anchor="middle">Resource allocation time (ms)</text>
<text transform="translate(130,844.5) rotate(-90)" font-size="79.7" text-anchor="middle">DoA error (degree)</text>
<rect x="1164.5" y="561.5" width="890" height="164" fill="#fff" stroke="#262626" stroke-width="1" shape-rendering="crispEdges"/>
<g shape-rendering="crispEdges"><line x1="1173" y1="604.6" x2="1193" y2="604.6" stroke="#f00" stroke-width="5"/><line x1="1212" y1="604.6" x2="1232" y2="604.6" stroke="#f00" stroke-width="5"/><use href="#dia" x="1209" y="604.5"/></g>
<g shape-rendering="crispEdges"><line x1="1173" y1="682.3" x2="1225" y2="682.3" stroke="#00f" stroke-width="9.4"/><line x1="1231" y1="682.3" x2="1246" y2="682.3" stroke="#00f" stroke-width="9.4"/><use href="#star" x="1209.4" y="682.3"/></g>
<text class="lg" x="1253.5" y="628.3" font-size="64.85">Proposed algorithm</text>
<text class="lg" x="1253.5" y="706" font-size="64.85">Improved MUSIC algorithm</text>
</svg>
</body></html>
